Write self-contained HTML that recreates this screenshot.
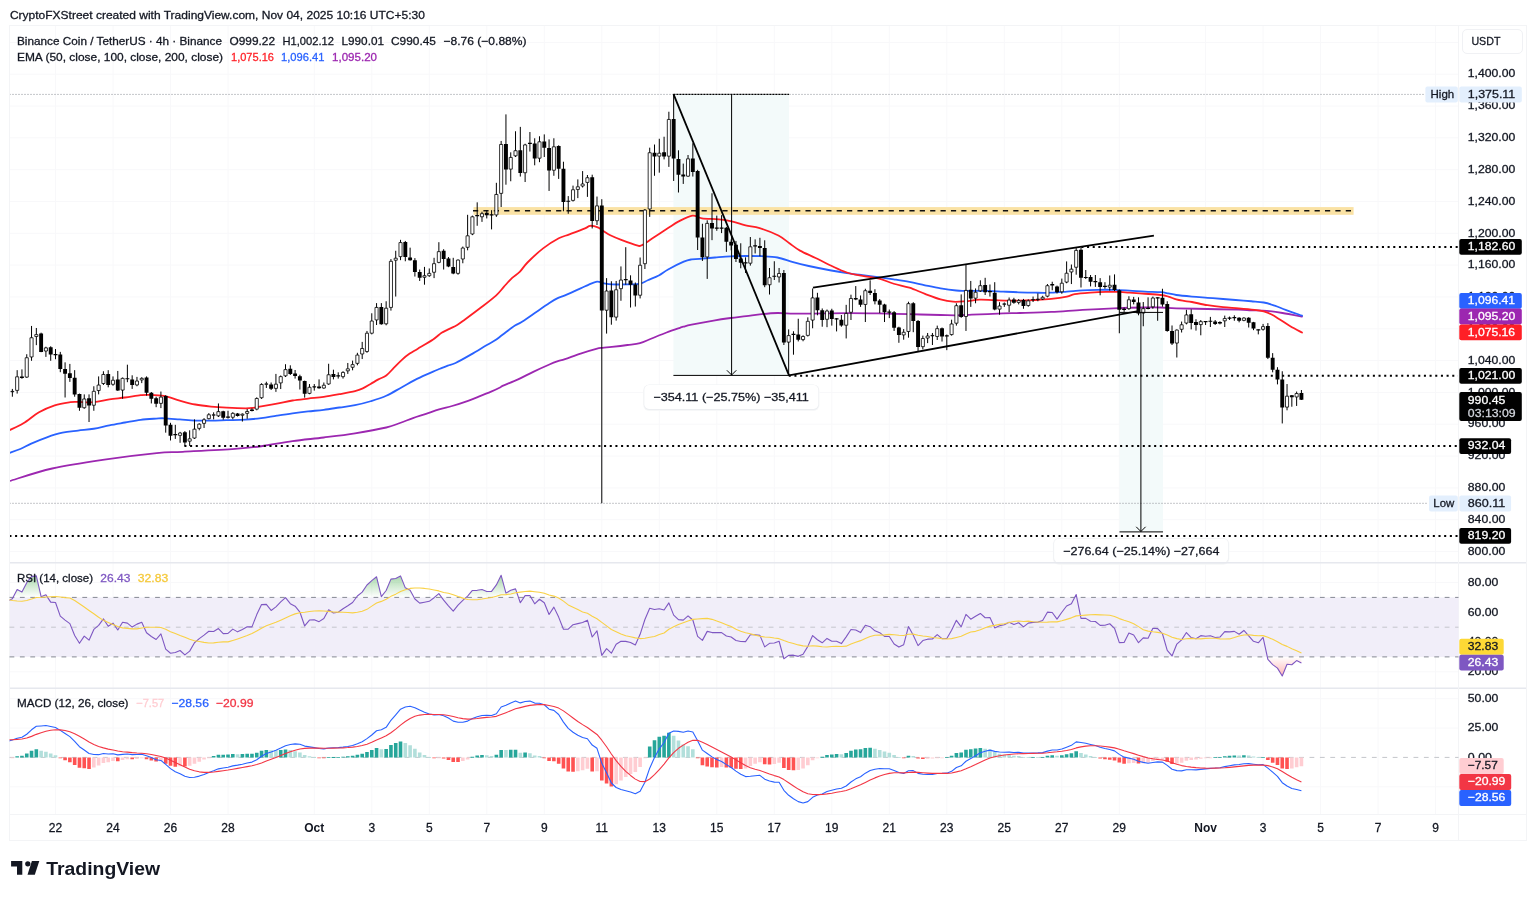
<!DOCTYPE html>
<html><head><meta charset="utf-8"><title>BNBUSDT 4h</title>
<style>html,body{margin:0;padding:0;background:#fff;}body{width:1536px;height:897px;overflow:hidden;font-family:"Liberation Sans", sans-serif;}svg{display:block;will-change:transform;opacity:0.999}text{font-family:"Liberation Sans", sans-serif;white-space:pre}</style>
</head><body><svg width="1536" height="897" viewBox="0 0 1536 897" font-family='"Liberation Sans", sans-serif' shape-rendering="auto"><rect x="0" y="0" width="1536" height="897" fill="#fff"/>
<line x1="55.5" y1="25.5" x2="55.5" y2="814.5" stroke="#f8f8fa" stroke-width="1"/>
<line x1="113.0" y1="25.5" x2="113.0" y2="814.5" stroke="#f8f8fa" stroke-width="1"/>
<line x1="170.5" y1="25.5" x2="170.5" y2="814.5" stroke="#f8f8fa" stroke-width="1"/>
<line x1="228.0" y1="25.5" x2="228.0" y2="814.5" stroke="#f8f8fa" stroke-width="1"/>
<line x1="314.3" y1="25.5" x2="314.3" y2="814.5" stroke="#f8f8fa" stroke-width="1"/>
<line x1="371.8" y1="25.5" x2="371.8" y2="814.5" stroke="#f8f8fa" stroke-width="1"/>
<line x1="429.3" y1="25.5" x2="429.3" y2="814.5" stroke="#f8f8fa" stroke-width="1"/>
<line x1="486.8" y1="25.5" x2="486.8" y2="814.5" stroke="#f8f8fa" stroke-width="1"/>
<line x1="544.3" y1="25.5" x2="544.3" y2="814.5" stroke="#f8f8fa" stroke-width="1"/>
<line x1="601.8" y1="25.5" x2="601.8" y2="814.5" stroke="#f8f8fa" stroke-width="1"/>
<line x1="659.3" y1="25.5" x2="659.3" y2="814.5" stroke="#f8f8fa" stroke-width="1"/>
<line x1="716.8" y1="25.5" x2="716.8" y2="814.5" stroke="#f8f8fa" stroke-width="1"/>
<line x1="774.3" y1="25.5" x2="774.3" y2="814.5" stroke="#f8f8fa" stroke-width="1"/>
<line x1="831.8" y1="25.5" x2="831.8" y2="814.5" stroke="#f8f8fa" stroke-width="1"/>
<line x1="889.3" y1="25.5" x2="889.3" y2="814.5" stroke="#f8f8fa" stroke-width="1"/>
<line x1="946.8" y1="25.5" x2="946.8" y2="814.5" stroke="#f8f8fa" stroke-width="1"/>
<line x1="1004.3" y1="25.5" x2="1004.3" y2="814.5" stroke="#f8f8fa" stroke-width="1"/>
<line x1="1061.8" y1="25.5" x2="1061.8" y2="814.5" stroke="#f8f8fa" stroke-width="1"/>
<line x1="1119.3" y1="25.5" x2="1119.3" y2="814.5" stroke="#f8f8fa" stroke-width="1"/>
<line x1="1205.6" y1="25.5" x2="1205.6" y2="814.5" stroke="#f8f8fa" stroke-width="1"/>
<line x1="1263.1" y1="25.5" x2="1263.1" y2="814.5" stroke="#f8f8fa" stroke-width="1"/>
<line x1="1320.6" y1="25.5" x2="1320.6" y2="814.5" stroke="#f8f8fa" stroke-width="1"/>
<line x1="1378.1" y1="25.5" x2="1378.1" y2="814.5" stroke="#f8f8fa" stroke-width="1"/>
<line x1="1435.6" y1="25.5" x2="1435.6" y2="814.5" stroke="#f8f8fa" stroke-width="1"/>
<line x1="9.5" y1="551.5" x2="1458.5" y2="551.5" stroke="#f8f8fa" stroke-width="1"/>
<line x1="9.5" y1="519.7" x2="1458.5" y2="519.7" stroke="#f8f8fa" stroke-width="1"/>
<line x1="9.5" y1="487.9" x2="1458.5" y2="487.9" stroke="#f8f8fa" stroke-width="1"/>
<line x1="9.5" y1="456.0" x2="1458.5" y2="456.0" stroke="#f8f8fa" stroke-width="1"/>
<line x1="9.5" y1="424.2" x2="1458.5" y2="424.2" stroke="#f8f8fa" stroke-width="1"/>
<line x1="9.5" y1="392.4" x2="1458.5" y2="392.4" stroke="#f8f8fa" stroke-width="1"/>
<line x1="9.5" y1="360.6" x2="1458.5" y2="360.6" stroke="#f8f8fa" stroke-width="1"/>
<line x1="9.5" y1="328.8" x2="1458.5" y2="328.8" stroke="#f8f8fa" stroke-width="1"/>
<line x1="9.5" y1="296.9" x2="1458.5" y2="296.9" stroke="#f8f8fa" stroke-width="1"/>
<line x1="9.5" y1="265.1" x2="1458.5" y2="265.1" stroke="#f8f8fa" stroke-width="1"/>
<line x1="9.5" y1="233.3" x2="1458.5" y2="233.3" stroke="#f8f8fa" stroke-width="1"/>
<line x1="9.5" y1="201.5" x2="1458.5" y2="201.5" stroke="#f8f8fa" stroke-width="1"/>
<line x1="9.5" y1="169.7" x2="1458.5" y2="169.7" stroke="#f8f8fa" stroke-width="1"/>
<line x1="9.5" y1="137.8" x2="1458.5" y2="137.8" stroke="#f8f8fa" stroke-width="1"/>
<line x1="9.5" y1="106.0" x2="1458.5" y2="106.0" stroke="#f8f8fa" stroke-width="1"/>
<line x1="9.5" y1="74.2" x2="1458.5" y2="74.2" stroke="#f8f8fa" stroke-width="1"/>
<line x1="9.5" y1="42.4" x2="1458.5" y2="42.4" stroke="#f8f8fa" stroke-width="1"/>
<line x1="9.5" y1="582.6" x2="1458.5" y2="582.6" stroke="#f8f8fa" stroke-width="1"/>
<line x1="9.5" y1="612.3" x2="1458.5" y2="612.3" stroke="#f8f8fa" stroke-width="1"/>
<line x1="9.5" y1="642.0" x2="1458.5" y2="642.0" stroke="#f8f8fa" stroke-width="1"/>
<line x1="9.5" y1="671.8" x2="1458.5" y2="671.8" stroke="#f8f8fa" stroke-width="1"/>
<line x1="9.5" y1="698.7" x2="1458.5" y2="698.7" stroke="#f8f8fa" stroke-width="1"/>
<line x1="9.5" y1="728.0" x2="1458.5" y2="728.0" stroke="#f8f8fa" stroke-width="1"/>
<line x1="9.5" y1="786.8" x2="1458.5" y2="786.8" stroke="#f8f8fa" stroke-width="1"/>
<rect x="673.4" y="94.4" width="115.6" height="281" fill="#f3fafa"/>
<rect x="1119.5" y="312.4" width="43.5" height="219.5" fill="#f3fafa"/>
<rect x="473.5" y="207.1" width="880.1" height="7.7" fill="#fae2a4"/>
<line x1="473" y1="210.8" x2="1353.5" y2="210.8" stroke="#111" stroke-width="1.4" stroke-dasharray="5.2,5.19"/>
<line x1="9.5" y1="94.4" x2="1425" y2="94.4" stroke="#8a8d95" stroke-width="1" stroke-dasharray="1,2"/>
<line x1="9.5" y1="503.3" x2="1428" y2="503.3" stroke="#8a8d95" stroke-width="1" stroke-dasharray="1,2"/>
<clipPath id="cMain"><rect x="9.5" y="26" width="1449" height="536"/></clipPath>
<path clip-path="url(#cMain)" d="M9.70,481.00 C16.78,478.92 36.42,472.07 52.20,468.50 C67.98,464.93 86.98,462.17 104.40,459.60 C121.82,457.03 143.63,454.40 156.70,453.10 C169.77,451.80 169.75,452.50 182.80,451.80 C195.85,451.10 221.93,449.82 235.00,448.90 C248.07,447.97 251.67,447.55 261.25,446.25 C270.83,444.95 282.08,442.56 292.50,441.10 C302.92,439.64 313.33,438.80 323.75,437.50 C334.17,436.20 344.58,434.97 355.00,433.30 C365.42,431.63 378.75,429.22 386.25,427.50 C393.75,425.78 395.54,424.57 400.00,423.00 C404.46,421.43 408.67,419.62 413.00,418.10 C417.33,416.58 421.65,415.32 426.00,413.85 C430.35,412.38 434.75,410.61 439.10,409.30 C443.45,407.99 447.77,407.25 452.10,406.00 C456.43,404.75 460.77,403.32 465.10,401.80 C469.43,400.28 473.77,398.58 478.10,396.90 C482.43,395.22 487.45,393.27 491.10,391.70 C494.75,390.13 498.10,388.47 500.00,387.50 C501.90,386.53 499.48,387.25 502.50,385.90 C505.52,384.55 512.89,381.78 518.10,379.40 C523.31,377.02 528.53,374.08 533.75,371.60 C538.97,369.12 545.49,366.20 549.40,364.50 C553.31,362.80 554.60,362.30 557.20,361.40 C559.80,360.50 561.10,360.40 565.00,359.10 C568.90,357.80 575.39,355.30 580.60,353.60 C585.81,351.90 592.60,349.87 596.25,348.90 C599.90,347.93 599.89,348.13 602.50,347.80 C605.11,347.47 607.73,347.37 611.90,346.90 C616.07,346.43 622.82,345.63 627.50,345.00 C632.18,344.37 636.08,344.14 640.00,343.10 C643.92,342.06 646.57,340.52 651.00,338.75 C655.43,336.98 661.77,334.32 666.60,332.50 C671.43,330.68 677.14,328.78 680.00,327.80 C682.86,326.82 681.82,327.12 683.75,326.60 C685.68,326.08 686.39,325.75 691.60,324.70 C696.81,323.65 708.50,321.42 715.00,320.30 C721.50,319.18 725.39,318.70 730.60,318.00 C735.81,317.30 741.03,316.75 746.25,316.10 C751.47,315.45 756.69,314.62 761.90,314.10 C767.11,313.58 772.30,313.08 777.50,313.00 C782.70,312.92 787.89,313.50 793.10,313.60 C798.31,313.70 799.78,313.68 808.75,313.60 C817.72,313.52 835.34,313.13 846.90,313.10 C858.46,313.07 867.68,313.22 878.10,313.40 C888.52,313.58 898.98,313.93 909.40,314.20 C919.82,314.47 932.79,314.82 940.60,315.00 C948.41,315.18 951.03,315.35 956.25,315.30 C961.47,315.25 964.09,315.02 971.90,314.70 C979.71,314.38 995.08,313.68 1003.10,313.40 C1011.12,313.12 1011.98,313.25 1020.00,313.00 C1028.03,312.75 1040.83,312.43 1051.25,311.90 C1061.67,311.37 1072.08,310.40 1082.50,309.80 C1092.92,309.20 1103.33,308.68 1113.75,308.30 C1124.17,307.92 1137.19,307.63 1145.00,307.50 C1152.81,307.37 1155.39,307.37 1160.60,307.50 C1165.81,307.63 1168.43,308.05 1176.25,308.30 C1184.07,308.55 1197.08,308.77 1207.50,309.00 C1217.92,309.23 1231.46,309.48 1238.75,309.70 C1246.04,309.92 1246.56,310.10 1251.25,310.30 C1255.94,310.50 1261.69,310.45 1266.90,310.90 C1272.11,311.35 1276.65,312.05 1282.50,313.00 C1288.35,313.95 1298.75,316.00 1302.00,316.60" fill="none" stroke="#9c27b0" stroke-width="1.8" stroke-linecap="round"/>
<path clip-path="url(#cMain)" d="M9.70,452.80 C11.47,452.17 16.71,450.53 20.30,449.00 C23.89,447.47 26.82,445.55 31.25,443.60 C35.68,441.65 41.69,439.12 46.90,437.30 C52.11,435.48 57.30,433.82 62.50,432.70 C67.70,431.58 72.89,431.26 78.10,430.60 C83.31,429.94 88.53,429.63 93.75,428.75 C98.97,427.87 104.19,426.34 109.40,425.30 C114.61,424.26 119.80,423.42 125.00,422.50 C130.20,421.58 135.39,420.45 140.60,419.80 C145.81,419.15 152.35,418.85 156.25,418.60 C160.15,418.35 160.09,418.17 164.00,418.30 C167.91,418.43 174.48,419.02 179.70,419.40 C184.92,419.78 190.08,420.40 195.30,420.60 C200.52,420.80 205.78,420.67 211.00,420.60 C216.22,420.53 220.83,420.35 226.60,420.20 C232.37,420.05 239.82,420.05 245.60,419.70 C251.38,419.35 256.03,418.78 261.25,418.10 C266.47,417.42 271.69,416.40 276.90,415.60 C282.11,414.80 287.30,414.00 292.50,413.30 C297.70,412.60 302.89,411.98 308.10,411.40 C313.31,410.82 318.53,410.45 323.75,409.80 C328.97,409.15 334.19,408.27 339.40,407.50 C344.61,406.73 349.80,406.24 355.00,405.20 C360.20,404.16 365.39,402.82 370.60,401.25 C375.81,399.68 381.03,398.14 386.25,395.80 C391.47,393.46 396.69,390.07 401.90,387.20 C407.11,384.33 412.30,381.20 417.50,378.60 C422.70,376.00 429.35,373.24 433.10,371.60 C436.85,369.96 437.55,369.75 440.00,368.75 C442.45,367.75 445.20,366.56 447.80,365.60 C450.40,364.64 451.69,364.87 455.60,363.00 C459.51,361.13 466.03,357.40 471.25,354.40 C476.47,351.40 482.99,347.30 486.90,345.00 C490.81,342.70 492.10,342.30 494.70,340.60 C497.30,338.90 499.12,337.32 502.50,334.80 C505.88,332.28 511.88,327.58 515.00,325.50 C518.12,323.42 518.12,324.26 521.25,322.30 C524.38,320.34 529.06,316.95 533.75,313.75 C538.44,310.55 545.49,305.66 549.40,303.10 C553.31,300.54 554.60,299.70 557.20,298.40 C559.80,297.10 561.10,296.97 565.00,295.30 C568.90,293.63 576.70,290.15 580.60,288.40 C584.50,286.65 585.67,285.92 588.40,284.80 C591.13,283.68 594.40,281.95 597.00,281.70 C599.60,281.45 601.52,282.85 604.00,283.30 C606.48,283.75 607.98,284.22 611.90,284.40 C615.82,284.58 622.82,284.51 627.50,284.40 C632.18,284.29 636.62,284.45 640.00,283.75 C643.38,283.05 644.67,281.57 647.80,280.20 C650.92,278.82 655.37,277.28 658.75,275.50 C662.13,273.72 663.93,271.80 668.10,269.50 C672.27,267.20 679.83,263.38 683.75,261.70 C687.67,260.02 688.99,259.87 691.60,259.40 C694.21,258.93 695.50,259.22 699.40,258.90 C703.30,258.58 709.80,257.93 715.00,257.50 C720.20,257.07 725.39,256.55 730.60,256.30 C735.81,256.05 741.03,256.02 746.25,256.00 C751.47,255.98 756.69,255.95 761.90,256.20 C767.11,256.45 772.30,256.50 777.50,257.50 C782.70,258.50 787.89,260.78 793.10,262.20 C798.31,263.62 802.39,264.62 808.75,266.00 C815.11,267.38 824.89,269.32 831.25,270.50 C837.61,271.68 841.69,272.32 846.90,273.10 C852.11,273.88 857.30,274.52 862.50,275.20 C867.70,275.88 872.89,276.50 878.10,277.20 C883.31,277.90 888.53,278.62 893.75,279.40 C898.97,280.18 904.19,280.92 909.40,281.90 C914.61,282.88 919.80,284.22 925.00,285.30 C930.20,286.38 935.39,287.53 940.60,288.40 C945.81,289.27 952.08,290.10 956.25,290.50 C960.42,290.90 960.39,290.75 965.60,290.80 C970.81,290.85 981.25,290.67 987.50,290.80 C993.75,290.93 997.89,291.35 1003.10,291.60 C1008.31,291.85 1013.33,292.12 1018.75,292.30 C1024.17,292.48 1030.18,292.63 1035.60,292.70 C1041.02,292.77 1046.03,292.88 1051.25,292.70 C1056.47,292.52 1061.69,292.00 1066.90,291.60 C1072.11,291.20 1077.30,290.60 1082.50,290.30 C1087.70,290.00 1092.89,289.88 1098.10,289.80 C1103.31,289.72 1108.53,289.67 1113.75,289.80 C1118.97,289.93 1124.19,290.30 1129.40,290.60 C1134.61,290.90 1139.80,291.33 1145.00,291.60 C1150.20,291.87 1156.70,291.90 1160.60,292.20 C1164.50,292.50 1165.79,292.93 1168.40,293.40 C1171.01,293.87 1172.33,294.47 1176.25,295.00 C1180.17,295.53 1186.69,296.13 1191.90,296.60 C1197.11,297.07 1202.30,297.40 1207.50,297.80 C1212.70,298.20 1218.42,298.63 1223.10,299.00 C1227.78,299.37 1230.91,299.62 1235.60,300.00 C1240.29,300.38 1246.56,300.83 1251.25,301.25 C1255.94,301.67 1259.84,301.77 1263.75,302.50 C1267.66,303.23 1271.06,304.38 1274.70,305.60 C1278.34,306.82 1281.05,308.13 1285.60,309.80 C1290.15,311.47 1299.27,314.63 1302.00,315.60" fill="none" stroke="#2962ff" stroke-width="1.8" stroke-linecap="round"/>
<path clip-path="url(#cMain)" d="M9.70,430.10 C11.98,428.97 18.52,426.27 23.40,423.30 C28.28,420.33 33.78,415.30 39.00,412.30 C44.22,409.30 49.48,406.98 54.70,405.30 C59.92,403.62 66.42,402.77 70.30,402.20 C74.18,401.63 74.09,401.90 78.00,401.90 C81.91,401.90 88.52,402.62 93.75,402.20 C98.98,401.78 104.19,400.18 109.40,399.40 C114.61,398.62 119.80,398.20 125.00,397.50 C130.20,396.80 136.70,395.65 140.60,395.20 C144.50,394.75 144.50,394.68 148.40,394.80 C152.30,394.92 158.78,394.93 164.00,395.90 C169.22,396.87 174.48,399.17 179.70,400.60 C184.92,402.03 190.08,403.50 195.30,404.50 C200.52,405.50 205.78,406.07 211.00,406.60 C216.22,407.13 220.83,407.42 226.60,407.70 C232.37,407.98 241.13,408.28 245.60,408.30 C250.07,408.32 250.79,408.12 253.40,407.80 C256.01,407.48 257.33,407.10 261.25,406.40 C265.17,405.70 271.69,404.58 276.90,403.60 C282.11,402.62 287.30,401.33 292.50,400.50 C297.70,399.67 302.89,399.20 308.10,398.60 C313.31,398.00 318.53,397.63 323.75,396.90 C328.97,396.17 334.19,395.17 339.40,394.20 C344.61,393.23 351.10,392.07 355.00,391.10 C358.90,390.13 360.20,389.58 362.80,388.40 C365.40,387.22 368.00,385.50 370.60,384.00 C373.20,382.50 375.79,380.82 378.40,379.40 C381.01,377.98 383.65,377.45 386.25,375.50 C388.85,373.55 391.39,370.32 394.00,367.70 C396.61,365.08 399.28,362.15 401.90,359.80 C404.52,357.45 407.10,355.42 409.70,353.60 C412.30,351.78 413.60,351.25 417.50,348.90 C421.40,346.55 429.08,342.18 433.10,339.50 C437.12,336.82 438.88,334.57 441.60,332.80 C444.32,331.03 446.80,330.20 449.40,328.90 C452.00,327.60 454.60,326.57 457.20,325.00 C459.80,323.43 461.10,322.37 465.00,319.50 C468.90,316.63 475.39,311.83 480.60,307.80 C485.81,303.77 492.35,298.82 496.25,295.30 C500.15,291.78 501.39,289.57 504.00,286.70 C506.61,283.83 509.28,280.57 511.90,278.10 C514.52,275.63 517.10,274.50 519.70,271.90 C522.30,269.30 523.60,266.42 527.50,262.50 C531.40,258.58 537.89,252.43 543.10,248.40 C548.31,244.37 554.37,240.63 558.75,238.30 C563.13,235.97 565.02,236.05 569.40,234.40 C573.77,232.75 581.57,229.83 585.00,228.40 C588.43,226.97 587.87,225.98 590.00,225.80 C592.13,225.62 595.51,226.39 597.80,227.30 C600.09,228.21 601.67,229.93 603.75,231.25 C605.83,232.57 607.38,233.77 610.30,235.20 C613.22,236.62 616.82,238.12 621.25,239.80 C625.68,241.48 633.51,244.38 636.90,245.30 C640.29,246.22 639.00,246.47 641.60,245.30 C644.20,244.13 648.08,241.17 652.50,238.30 C656.92,235.43 663.73,230.92 668.10,228.10 C672.48,225.28 674.68,223.48 678.75,221.40 C682.82,219.32 688.64,216.12 692.50,215.60 C696.36,215.08 697.48,217.67 701.90,218.30 C706.32,218.93 714.05,218.88 719.00,219.40 C723.95,219.92 727.17,220.42 731.60,221.40 C736.03,222.38 740.92,224.18 745.60,225.30 C750.28,226.42 754.23,226.40 759.70,228.10 C765.17,229.80 773.45,232.97 778.40,235.50 C783.35,238.03 785.80,240.78 789.40,243.30 C793.00,245.82 795.63,248.15 800.00,250.60 C804.37,253.05 810.39,255.47 815.60,258.00 C820.81,260.53 826.03,263.38 831.25,265.80 C836.47,268.22 841.69,270.82 846.90,272.50 C852.11,274.18 857.30,274.93 862.50,275.90 C867.70,276.87 872.89,276.99 878.10,278.30 C883.31,279.61 888.53,282.18 893.75,283.75 C898.97,285.32 904.19,286.01 909.40,287.70 C914.61,289.39 919.80,291.95 925.00,293.90 C930.20,295.85 935.92,298.10 940.60,299.40 C945.28,300.70 948.93,301.39 953.10,301.70 C957.27,302.01 961.17,301.58 965.60,301.25 C970.03,300.92 974.75,299.88 979.70,299.70 C984.65,299.52 988.79,300.05 995.30,300.20 C1001.81,300.35 1012.03,300.63 1018.75,300.60 C1025.47,300.57 1030.18,300.28 1035.60,300.00 C1041.02,299.72 1046.03,299.47 1051.25,298.90 C1056.47,298.33 1062.99,297.38 1066.90,296.60 C1070.81,295.82 1070.80,294.85 1074.70,294.20 C1078.60,293.55 1085.10,293.08 1090.30,292.70 C1095.50,292.32 1100.95,292.03 1105.90,291.90 C1110.85,291.77 1116.08,291.77 1120.00,291.90 C1123.92,292.03 1125.23,292.39 1129.40,292.70 C1133.57,293.01 1139.80,293.37 1145.00,293.75 C1150.20,294.13 1156.70,294.52 1160.60,295.00 C1164.50,295.48 1165.79,295.87 1168.40,296.60 C1171.01,297.33 1173.65,298.68 1176.25,299.40 C1178.85,300.12 1181.39,300.47 1184.00,300.90 C1186.61,301.33 1187.98,301.28 1191.90,302.00 C1195.82,302.72 1202.30,304.33 1207.50,305.20 C1212.70,306.07 1217.89,306.68 1223.10,307.20 C1228.31,307.72 1233.53,307.87 1238.75,308.30 C1243.97,308.73 1250.23,309.28 1254.40,309.80 C1258.57,310.32 1260.88,310.62 1263.75,311.40 C1266.62,312.18 1268.99,313.20 1271.60,314.50 C1274.21,315.80 1276.28,317.24 1279.40,319.20 C1282.52,321.16 1286.53,324.03 1290.30,326.25 C1294.07,328.47 1300.05,331.46 1302.00,332.50" fill="none" stroke="#ff1f26" stroke-width="1.8" stroke-linecap="round"/>
<path d="M12.37,388.91V396.72M17.16,370.16V393.59M21.95,369.38V378.75M26.75,354.22V377.81M31.54,325.94V360.78M36.33,327.97V345.16M41.12,332.66V352.19M45.91,346.72V356.88M50.71,346.25V360.78M55.50,349.06V359.22M60.29,351.88V372.19M65.08,362.34V397.50M69.87,363.91V381.88M74.67,370.16V396.72M79.46,393.59V410.78M84.25,394.38V408.75M89.04,394.38V422.03M93.83,386.25V410.78M98.63,376.41V394.38M103.42,371.25V385.00M108.21,370.16V387.34M113.00,376.41V385.78M117.79,370.94V390.94M122.59,377.50V398.75M127.38,364.69V382.19M132.17,375.31V388.91M136.96,376.88V386.25M141.75,377.19V383.12M146.55,376.41V395.62M151.34,392.03V403.44M156.13,396.72V407.19M160.92,391.56V408.12M165.71,395.16V432.66M170.51,422.81V440.47M175.30,424.84V438.91M180.09,431.88V442.81M184.88,431.09V445.94M189.67,430.31V445.94M194.47,419.38V438.91M199.26,423.28V430.31M204.05,418.12V427.97M208.84,413.12V419.38M213.63,412.34V419.38M218.43,403.44V417.03M223.22,410.78V419.69M228.01,410.78V418.59M232.80,412.19V419.22M237.59,412.97V416.56M242.39,413.44V421.56M247.18,409.06V418.75M251.97,408.28V411.41M256.76,397.34V410.31M261.55,383.28V398.91M266.35,381.72V387.97M271.14,382.50V390.00M275.93,373.91V391.88M280.72,375.47V389.06M285.51,364.22V377.03M290.31,365.31V375.00M295.10,370.00V378.59M299.89,374.69V389.53M304.68,380.62V397.66M309.47,384.06V394.22M314.27,384.06V390.62M319.06,379.38V388.75M323.85,382.50V388.75M328.64,363.75V384.84M333.43,369.69V379.38M338.23,372.34V378.59M343.02,371.25V378.59M347.81,362.97V373.91M352.60,360.62V370.31M357.39,352.81V365.31M362.19,341.88V359.06M366.98,330.94V352.81M371.77,313.28V334.38M376.56,303.12V325.00M381.35,303.12V324.69M386.15,301.25V325.31M390.94,259.06V310.62M395.73,250.78V296.56M400.52,239.84V260.16M405.31,240.94V261.25M410.11,247.66V260.62M414.90,258.12V276.56M419.69,269.53V280.94M424.48,266.88V284.69M429.27,268.44V276.88M434.07,257.81V278.12M438.86,242.19V263.28M443.65,249.22V269.53M448.44,257.03V267.19M453.23,257.81V274.22M458.03,259.38V274.69M462.82,246.56V263.28M467.61,214.80V250.30M472.40,215.62V235.16M477.19,202.34V225.78M481.99,211.72V221.88M486.78,210.16V218.44M491.57,210.16V229.38M496.36,182.81V216.88M501.15,140.94V207.03M505.95,114.38V184.69M510.74,152.34V181.25M515.53,131.25V157.03M520.32,126.88V176.56M525.11,143.75V182.03M529.91,132.03V151.56M534.70,138.28V165.31M539.49,136.25V162.19M544.28,134.38V157.03M549.07,139.38V190.94M553.87,138.28V175.78M558.66,145.31V178.91M563.45,161.72V211.25M568.24,196.09V213.75M573.03,185.62V201.56M577.83,179.38V198.12M582.62,171.09V187.50M587.41,175.00V196.88M592.20,174.69V228.44M596.99,196.56V225.00M601.79,199.20V503.20M606.58,278.12V333.59M611.37,281.25V324.69M616.16,280.94V320.62M620.95,266.41V300.78M625.75,247.19V284.69M630.54,275.31V307.50M635.33,282.50V306.56M640.12,257.50V298.44M644.91,209.00V269.00M649.71,147.66V216.88M654.50,144.53V175.78M659.29,138.75V172.66M664.08,136.72V159.38M668.87,111.72V166.88M673.67,94.06V180.94M678.46,150.31V192.50M683.25,163.59V183.91M688.04,155.00V176.88M692.83,143.28V176.56M697.63,169.84V250.00M702.42,223.75V260.94M707.21,220.30V278.90M712.00,193.28V240.16M716.79,215.62V230.78M721.59,215.16V233.12M726.38,226.88V251.88M731.17,239.38V250.31M735.96,240.94V262.03M740.75,243.28V268.28M745.55,257.34V272.97M750.34,237.03V265.62M755.13,239.38V253.44M759.92,237.81V256.25M764.71,240.31V287.19M769.51,267.97V294.53M774.30,261.25V280.00M779.09,267.97V282.50M783.88,270.00V345.00M788.67,329.40V375.00M793.47,331.25V354.69M798.26,318.75V341.41M803.05,335.31V341.25M807.84,317.34V336.56M812.63,288.44V328.28M817.43,292.81V315.31M822.22,308.44V326.72M827.01,309.53V327.19M831.80,308.75V325.62M836.59,318.12V331.41M841.39,315.00V326.72M846.18,304.84V338.44M850.97,294.69V320.00M855.76,286.09V300.16M860.55,295.47V306.88M865.35,288.75V322.03M870.14,280.31V295.00M874.93,289.22V304.38M879.72,299.06V313.12M884.51,303.75V322.03M889.31,309.53V318.12M894.10,311.09V330.94M898.89,326.72V342.81M903.68,329.06V339.69M908.47,301.72V337.66M913.27,302.19V332.19M918.06,320.00V350.94M922.85,335.62V349.38M927.64,332.97V343.12M932.43,332.97V345.00M937.23,325.62V340.00M942.02,327.50V341.56M946.81,334.53V350.16M951.60,319.69V335.62M956.39,303.28V325.62M961.19,294.38V317.81M965.98,265.00V330.94M970.77,280.94V306.88M975.56,288.44V303.28M980.35,280.31V291.88M985.15,277.81V295.00M989.94,284.53V296.56M994.73,282.19V310.31M999.52,302.19V314.69M1004.31,302.50V306.88M1009.11,297.50V312.19M1013.90,297.81V303.75M1018.69,299.06V304.38M1023.48,298.91V308.75M1028.27,299.38V306.72M1033.07,296.56V302.03M1037.86,293.44V301.25M1042.65,295.78V300.00M1047.44,284.06V297.34M1052.23,281.72V290.31M1057.03,285.62V293.44M1061.82,278.59V293.75M1066.61,261.41V283.28M1071.40,264.53V284.06M1076.19,248.12V274.69M1080.99,247.81V287.50M1085.78,270.00V279.06M1090.57,275.00V286.41M1095.36,275.00V286.88M1100.15,278.12V295.31M1104.95,282.19V288.75M1109.74,275.47V290.62M1114.53,274.38V291.09M1119.32,289.53V333.28M1124.11,307.50V311.88M1128.91,296.25V309.84M1133.70,296.88V304.38M1138.49,297.34V315.31M1143.28,302.03V326.25M1148.07,297.34V309.38M1152.87,296.56V308.75M1157.66,297.34V320.78M1162.45,288.75V306.72M1167.24,301.25V331.72M1172.03,325.47V345.00M1176.83,329.38V357.50M1181.62,321.56V332.50M1186.41,309.84V324.38M1191.20,309.38V329.38M1195.99,319.22V330.62M1200.79,320.00V335.31M1205.58,321.25V325.00M1210.37,316.88V327.03M1215.16,320.00V325.00M1219.95,321.25V324.38M1224.75,315.62V327.03M1229.54,316.56V320.00M1234.33,315.31V320.78M1239.12,317.19V322.34M1243.91,317.19V321.25M1248.71,317.19V327.50M1253.50,321.88V330.16M1258.29,329.38V334.38M1263.08,323.91V330.62M1267.87,323.12V359.06M1272.67,353.12V372.34M1277.46,367.19V384.38M1282.25,371.25V423.44M1287.04,384.06V410.31M1291.83,395.00V406.72M1296.63,391.56V405.94M1301.42,390.00V400.00" stroke="#000" stroke-width="1" fill="none"/>
<path d="M20.00,376.41H23.90V377.97H20.00ZM39.17,333.44H43.07V351.88H39.17ZM48.76,347.19H52.66V354.53H48.76ZM53.55,353.93H57.45V355.13H53.55ZM58.34,354.53H62.24V369.06H58.34ZM63.13,369.06H67.03V373.75H63.13ZM67.92,373.28H71.82V377.97H67.92ZM72.72,377.66H76.62V394.38H72.72ZM77.51,394.06H81.41V407.66H77.51ZM87.09,398.28H90.99V405.62H87.09ZM106.26,374.06H110.16V385.00H106.26ZM115.84,379.53H119.74V390.47H115.84ZM125.43,378.15H129.33V379.35H125.43ZM130.22,379.53H134.12V385.00H130.22ZM144.60,377.50H148.50V392.81H144.60ZM149.39,392.81H153.29V398.75H149.39ZM154.18,398.28H158.08V403.75H154.18ZM163.76,395.94H167.66V425.62H163.76ZM168.56,424.84H172.46V435.78H168.56ZM173.35,434.01H177.25V435.21H173.35ZM182.93,432.34H186.83V442.50H182.93ZM221.27,411.25H225.17V417.81H221.27ZM226.06,416.51H229.96V417.71H226.06ZM235.64,413.44H239.54V416.09H235.64ZM250.02,409.53H253.92V411.09H250.02ZM269.19,384.38H273.09V388.75H269.19ZM288.36,368.75H292.26V373.91H288.36ZM293.15,373.59H297.05V375.94H293.15ZM297.94,376.25H301.84V380.62H297.94ZM302.73,380.94H306.63V393.75H302.73ZM317.11,386.41H321.01V388.28H317.11ZM331.48,373.91H335.38V377.03H331.48ZM336.28,375.34H340.18V376.54H336.28ZM379.40,307.03H383.30V324.22H379.40ZM403.36,241.88H407.26V257.03H403.36ZM408.16,257.50H412.06V260.16H408.16ZM412.95,260.16H416.85V271.88H412.95ZM417.74,271.88H421.64V277.66H417.74ZM441.70,250.78H445.60V259.06H441.70ZM446.49,258.59H450.39V266.41H446.49ZM451.28,266.88H455.18V273.44H451.28ZM475.24,215.03H479.14V216.22H475.24ZM484.83,212.81H488.73V215.31H484.83ZM489.62,214.24H493.52V215.44H489.62ZM504.00,144.06H507.90V169.53H504.00ZM518.37,150.31H522.27V173.12H518.37ZM527.96,142.84H531.86V144.04H527.96ZM532.75,143.44H536.65V158.59H532.75ZM542.33,141.41H546.23V147.66H542.33ZM547.12,148.12H551.02V170.62H547.12ZM556.71,146.09H560.61V168.75H556.71ZM561.50,168.75H565.40V201.88H561.50ZM566.29,200.65H570.19V201.85H566.29ZM590.25,177.34H594.15V221.09H590.25ZM599.84,205.50H603.74V310.60H599.84ZM609.42,290.62H613.32V317.19H609.42ZM623.80,279.09H627.70V280.29H623.80ZM628.59,280.47H632.49V284.69H628.59ZM633.38,284.38H637.28V295.62H633.38ZM652.55,152.81H656.45V156.56H652.55ZM662.13,152.34H666.03V156.56H662.13ZM671.72,119.06H675.62V158.59H671.72ZM676.51,159.06H680.41V174.69H676.51ZM681.30,174.53H685.20V176.56H681.30ZM690.88,158.44H694.78V171.88H690.88ZM695.68,170.94H699.58V237.50H695.68ZM700.47,237.50H704.37V257.34H700.47ZM710.05,222.97H713.95V228.44H710.05ZM714.84,227.53H718.74V228.72H714.84ZM719.64,227.53H723.54V228.72H719.64ZM724.43,227.66H728.33V241.72H724.43ZM729.22,241.72H733.12V245.62H729.22ZM734.01,244.84H737.91V258.91H734.01ZM738.80,258.44H742.70V262.81H738.80ZM743.60,262.21H747.50V263.41H743.60ZM753.18,245.34H757.08V246.54H753.18ZM757.97,245.94H761.87V247.97H757.97ZM762.76,248.12H766.66V285.16H762.76ZM772.35,275.65H776.25V276.85H772.35ZM781.93,273.12H785.83V342.50H781.93ZM791.52,333.77H795.42V334.98H791.52ZM796.31,334.38H800.21V339.84H796.31ZM815.48,297.50H819.38V310.31H815.48ZM820.27,310.31H824.17V320.00H820.27ZM829.85,310.62H833.75V318.91H829.85ZM834.64,318.31H838.54V319.51H834.64ZM839.44,319.69H843.34V325.62H839.44ZM853.81,298.12H857.71V299.38H853.81ZM858.60,299.38H862.50V304.84H858.60ZM868.19,290.78H872.09V293.12H868.19ZM872.98,293.12H876.88V301.25H872.98ZM877.77,300.62H881.67V304.84H877.77ZM882.56,304.38H886.46V312.19H882.56ZM887.36,311.59H891.26V312.79H887.36ZM892.15,312.19H896.05V327.81H892.15ZM896.94,327.50H900.84V335.00H896.94ZM911.32,303.28H915.22V320.94H911.32ZM916.11,320.94H920.01V347.03H916.11ZM940.07,328.28H943.97V336.56H940.07ZM944.86,335.18H948.76V336.38H944.86ZM959.24,305.31H963.14V316.88H959.24ZM968.82,289.69H972.72V298.59H968.82ZM983.20,285.00H987.10V292.34H983.20ZM987.99,290.96H991.89V292.16H987.99ZM992.78,292.81H996.68V309.53H992.78ZM1011.95,299.38H1015.85V302.81H1011.95ZM1021.53,300.00H1025.43V305.94H1021.53ZM1050.28,284.06H1054.18V285.62H1050.28ZM1055.08,286.41H1058.98V292.19H1055.08ZM1079.04,249.69H1082.94V277.81H1079.04ZM1083.83,276.90H1087.73V278.10H1083.83ZM1088.62,277.03H1092.52V281.72H1088.62ZM1093.41,281.12H1097.31V282.32H1093.41ZM1098.20,282.19H1102.10V286.88H1098.20ZM1103.00,285.81H1106.90V287.01H1103.00ZM1112.58,284.84H1116.48V290.00H1112.58ZM1117.37,290.31H1121.27V309.84H1117.37ZM1122.16,308.77H1126.06V309.98H1122.16ZM1131.75,299.38H1135.65V302.03H1131.75ZM1136.54,302.50H1140.44V313.44H1136.54ZM1146.12,307.76H1150.02V308.96H1146.12ZM1155.71,297.21H1159.61V298.41H1155.71ZM1160.50,297.66H1164.40V304.38H1160.50ZM1165.29,304.06H1169.19V330.94H1165.29ZM1170.08,330.94H1173.98V343.44H1170.08ZM1189.25,314.22H1193.15V323.12H1189.25ZM1194.04,321.88H1197.94V325.00H1194.04ZM1203.63,321.12H1207.53V322.32H1203.63ZM1208.42,320.65H1212.32V321.85H1208.42ZM1213.21,321.56H1217.11V323.91H1213.21ZM1218.00,321.88H1221.90V323.44H1218.00ZM1227.59,317.52H1231.49V318.73H1227.59ZM1232.38,317.06H1236.28V318.26H1232.38ZM1237.17,317.66H1241.07V320.78H1237.17ZM1246.76,317.66H1250.66V322.81H1246.76ZM1251.55,322.34H1255.45V328.59H1251.55ZM1256.34,329.24H1260.24V330.44H1256.34ZM1265.92,325.94H1269.82V357.81H1265.92ZM1270.72,357.81H1274.62V369.69H1270.72ZM1275.51,369.69H1279.41V379.38H1275.51ZM1280.30,379.38H1284.20V407.50H1280.30ZM1289.88,395.31H1293.78V397.34H1289.88ZM1299.47,393.12H1303.37V399.69H1299.47Z" fill="#000"/>
<path d="M10.82,391.36H13.92V391.76H10.82ZM15.61,376.81H18.71V390.38H15.61ZM25.20,357.74H28.30V377.10H25.20ZM29.99,337.74H33.09V356.94H29.99ZM34.78,334.62H37.88V336.48H34.78ZM44.36,347.90H47.46V351.01H44.36ZM82.70,398.99H85.80V407.73H82.70ZM92.28,391.34H95.38V405.23H92.28ZM97.08,385.09H100.18V390.54H97.08ZM101.87,374.46H104.97V383.51H101.87ZM111.45,380.24H114.55V384.29H111.45ZM121.04,378.37H124.14V390.07H121.04ZM135.41,381.02H138.51V384.91H135.41ZM140.20,378.37H143.30V379.91H140.20ZM159.37,397.12H162.47V403.35H159.37ZM178.54,433.06H181.64V435.38H178.54ZM188.12,438.84H191.22V441.16H188.12ZM192.92,429.15H196.02V438.04H192.92ZM197.71,424.15H200.81V428.35H197.71ZM202.50,419.77H205.60V423.35H202.50ZM207.29,414.77H210.39V418.66H207.29ZM212.08,414.80H215.18V415.20H212.08ZM216.88,411.65H219.98V415.85H216.88ZM231.25,413.37H234.35V417.26H231.25ZM240.84,414.15H243.94V415.23H240.84ZM245.63,411.49H248.73V413.35H245.63ZM255.21,398.52H258.31V409.13H255.21ZM260.00,384.46H263.10V397.73H260.00ZM264.80,383.86H267.90V384.26H264.80ZM274.38,384.15H277.48V388.35H274.38ZM279.17,376.65H282.27V382.88H279.17ZM283.96,369.62H287.06V375.85H283.96ZM307.92,387.27H311.02V393.35H307.92ZM312.72,386.67H315.82V387.08H312.72ZM322.30,385.24H325.40V388.04H322.30ZM327.09,374.77H330.19V383.98H327.09ZM341.47,372.43H344.57V376.63H341.47ZM346.26,368.84H349.36V370.85H346.26ZM351.05,364.62H354.15V367.26H351.05ZM355.84,355.09H358.94V363.35H355.84ZM360.64,348.52H363.74V353.98H360.64ZM365.43,333.21H368.53V351.48H365.43ZM370.22,321.02H373.32V333.19H370.22ZM375.01,307.43H378.11V319.91H375.01ZM384.60,308.21H387.70V323.82H384.60ZM389.39,261.34H392.49V307.41H389.39ZM394.18,258.21H397.28V260.23H394.18ZM398.97,242.59H402.07V256.63H398.97ZM422.93,275.71H426.03V277.26H422.93ZM427.72,273.37H430.82V275.69H427.72ZM432.52,263.68H435.62V272.26H432.52ZM437.31,251.65H440.41V262.41H437.31ZM456.48,260.09H459.58V273.35H456.48ZM461.27,248.06H464.37V258.98H461.27ZM466.06,235.80H469.16V247.30H466.06ZM470.85,216.81H473.95V233.97H470.85ZM480.44,213.68H483.54V216.79H480.44ZM494.81,194.46H497.91V214.91H494.81ZM499.60,144.46H502.70V193.35H499.60ZM509.19,157.43H512.29V169.13H509.19ZM513.98,150.71H517.08V155.85H513.98ZM523.56,144.93H526.66V172.72H523.56ZM537.94,141.81H541.04V158.19H537.94ZM552.32,146.81H555.42V170.22H552.32ZM571.48,189.78H574.58V200.38H571.48ZM576.28,186.81H579.38V189.44H576.28ZM581.07,183.99H584.17V186.01H581.07ZM585.86,177.74H588.96V182.41H585.86ZM595.44,205.87H598.54V220.69H595.44ZM605.03,291.02H608.13V310.23H605.03ZM614.61,289.77H617.71V317.10H614.61ZM619.40,280.09H622.50V288.66H619.40ZM638.57,265.24H641.67V295.23H638.57ZM643.36,210.10H646.46V263.70H643.36ZM648.16,152.74H651.26V208.97H648.16ZM657.74,153.21H660.84V156.16H657.74ZM667.32,119.46H670.42V156.16H667.32ZM686.49,158.84H689.59V176.16H686.49ZM705.66,223.40H708.76V256.90H705.66ZM748.79,246.81H751.89V263.19H748.79ZM767.96,277.74H771.06V284.76H767.96ZM777.54,273.52H780.64V276.94H777.54ZM787.12,335.60H790.22V342.10H787.12ZM801.50,336.49H804.60V339.60H801.50ZM806.29,321.34H809.39V335.38H806.29ZM811.08,297.90H814.18V320.07H811.08ZM825.46,311.02H828.56V319.29H825.46ZM844.63,313.52H847.73V325.23H844.63ZM849.42,298.52H852.52V312.26H849.42ZM863.80,290.71H866.90V304.44H863.80ZM902.13,332.27H905.23V334.91H902.13ZM906.92,303.68H910.02V331.48H906.92ZM921.30,338.52H924.40V346.63H921.30ZM926.09,336.02H929.19V338.04H926.09ZM930.88,335.42H933.98V335.83H930.88ZM935.68,328.68H938.78V336.48H935.68ZM950.05,323.99H953.15V334.60H950.05ZM954.84,305.71H957.94V323.19H954.84ZM964.43,290.40H967.53V316.48H964.43ZM974.01,292.27H977.11V298.19H974.01ZM978.80,285.71H981.90V290.85H978.80ZM997.97,306.02H1001.07V309.13H997.97ZM1002.76,303.86H1005.86V304.26H1002.76ZM1007.56,300.09H1010.66V305.23H1007.56ZM1017.14,300.56H1020.24V302.41H1017.14ZM1026.72,300.87H1029.82V305.54H1026.72ZM1031.52,299.49H1034.62V299.89H1031.52ZM1036.31,299.17H1039.41V299.58H1036.31ZM1041.10,297.27H1044.20V298.98H1041.10ZM1045.89,285.71H1048.99V296.16H1045.89ZM1060.27,283.21H1063.37V291.79H1060.27ZM1065.06,273.21H1068.16V282.10H1065.06ZM1069.85,269.15H1072.95V271.94H1069.85ZM1074.64,250.40H1077.74V267.26H1074.64ZM1108.19,285.24H1111.29V287.10H1108.19ZM1127.36,299.77H1130.46V308.66H1127.36ZM1141.73,308.68H1144.83V313.04H1141.73ZM1151.32,298.06H1154.42V306.79H1151.32ZM1175.28,330.09H1178.38V343.04H1175.28ZM1180.07,324.77H1183.17V329.29H1180.07ZM1184.86,314.93H1187.96V323.04H1184.86ZM1199.24,321.65H1202.34V324.60H1199.24ZM1223.20,318.52H1226.30V320.85H1223.20ZM1242.36,318.06H1245.46V320.38H1242.36ZM1261.53,326.65H1264.63V329.29H1261.53ZM1285.49,396.18H1288.59V407.10H1285.49ZM1295.08,393.52H1298.18V396.94H1295.08Z" fill="#fff" stroke="#000" stroke-width="0.8"/>
<line x1="673.4" y1="94.4" x2="789" y2="94.4" stroke="#000" stroke-width="1.3" stroke-dasharray="2,1"/>
<line x1="731.6" y1="94.4" x2="731.6" y2="375" stroke="#000" stroke-width="1"/>
<path d="M726.9,370.3 L731.6,375 L736.3,370.3" stroke="#000" stroke-width="1" fill="none"/>
<line x1="673.4" y1="375.4" x2="789" y2="375.4" stroke="#000" stroke-width="1"/>
<line x1="673.6" y1="94.4" x2="789" y2="375.4" stroke="#000" stroke-width="1.8"/>
<path d="M813,287.7 L1153.9,235.6" stroke="#000" stroke-width="1.8" fill="none"/>
<line x1="789" y1="375.4" x2="1139.5" y2="310.9" stroke="#000" stroke-width="1.8"/>
<line x1="1119.5" y1="312.4" x2="1163" y2="312.4" stroke="#000" stroke-width="1"/>
<line x1="1140.9" y1="312.2" x2="1140.9" y2="531.5" stroke="#000" stroke-width="1"/>
<path d="M1136.2,526.8 L1140.9,531.5 L1145.6,526.8" stroke="#000" stroke-width="1" fill="none"/>
<line x1="1119.5" y1="531.9" x2="1163" y2="531.9" stroke="#000" stroke-width="1"/>
<line x1="1081.35" y1="247.0" x2="1458.5" y2="247.0" stroke="#000" stroke-width="2.05" stroke-dasharray="2.05,3.621"/>
<line x1="788.75" y1="375.7" x2="1458.5" y2="375.7" stroke="#000" stroke-width="2.05" stroke-dasharray="2.05,3.621"/>
<line x1="184.4" y1="445.9" x2="1458.5" y2="445.9" stroke="#000" stroke-width="2.05" stroke-dasharray="2.05,3.621"/>
<line x1="9.4" y1="535.9" x2="1458.5" y2="535.9" stroke="#000" stroke-width="2.05" stroke-dasharray="2.05,3.621"/>
<rect x="643.0999999999999" y="384.4" width="176.4" height="26.6" rx="6" fill="#f6f7f8"/>
<rect x="643.8" y="384.7" width="175" height="25.2" rx="5.2" fill="#eceef1"/>
<rect x="644.3" y="385" width="174" height="24" rx="4.8" fill="#fff"/>
<text x="653.4" y="401.4" font-size="11.3" fill="#131722" stroke="#131722" stroke-width="0.28" font-weight="400" text-anchor="start" textLength="155.5" lengthAdjust="spacingAndGlyphs">−354.11 (−25.75%) −35,411</text>
<rect x="1052.8999999999999" y="538.1" width="176.4" height="26.6" rx="6" fill="#f6f7f8"/>
<rect x="1053.6" y="538.4000000000001" width="175" height="25.2" rx="5.2" fill="#eceef1"/>
<rect x="1054.1" y="538.7" width="174" height="24" rx="4.8" fill="#fff"/>
<text x="1063.1999999999998" y="555.1" font-size="11.3" fill="#131722" stroke="#131722" stroke-width="0.28" font-weight="400" text-anchor="start" textLength="156.2" lengthAdjust="spacingAndGlyphs">−276.64 (−25.14%) −27,664</text>
<rect x="1458.5" y="25.5" width="68.0" height="815.0" fill="#fff"/>
<line x1="9.5" y1="562.7" x2="1526.5" y2="562.7" stroke="#e6e8ee" stroke-width="1.4"/>
<line x1="9.5" y1="688.3" x2="1526.5" y2="688.3" stroke="#e6e8ee" stroke-width="1.4"/>
<line x1="9.5" y1="814.5" x2="1526.5" y2="814.5" stroke="#f3f4f6" stroke-width="1"/>
<line x1="1458.5" y1="25.5" x2="1458.5" y2="840.5" stroke="#f3f4f6" stroke-width="1"/>
<rect x="9.5" y="25.5" width="1517.0" height="815.0" fill="none" stroke="#f3f4f6" stroke-width="1"/>
<rect x="10.0" y="597.4" width="1448.5" height="59.5" fill="#f1eef9"/>
<line x1="9.5" y1="597.4" x2="1458.5" y2="597.4" stroke="#868993" stroke-width="1" stroke-dasharray="4.8,5.6"/>
<line x1="9.5" y1="627.2" x2="1458.5" y2="627.2" stroke="#c4c6cc" stroke-width="1" stroke-dasharray="4.8,5.6"/>
<line x1="9.5" y1="656.9" x2="1458.5" y2="656.9" stroke="#868993" stroke-width="1" stroke-dasharray="4.8,5.6"/>
<line x1="9.5" y1="757.4" x2="1458.5" y2="757.4" stroke="#c3c5ca" stroke-width="1" stroke-dasharray="4.8,5.6"/>
<defs><linearGradient id="gob" x1="0" y1="0" x2="0" y2="1" gradientUnits="userSpaceOnUse" ></linearGradient><linearGradient id="gOB" gradientUnits="userSpaceOnUse" x1="0" y1="552.8" x2="0" y2="597.4"><stop offset="0" stop-color="#4caf50" stop-opacity="1"/><stop offset="1" stop-color="#4caf50" stop-opacity="0"/></linearGradient><linearGradient id="gOS" gradientUnits="userSpaceOnUse" x1="0" y1="656.9" x2="0" y2="701.5"><stop offset="0" stop-color="#ff5252" stop-opacity="0"/><stop offset="1" stop-color="#ff5252" stop-opacity="1"/></linearGradient><clipPath id="cOB"><rect x="9.5" y="500" width="1449" height="97.4"/></clipPath><clipPath id="cOS"><rect x="9.5" y="656.9" width="1449" height="100"/></clipPath><clipPath id="cPane"><rect x="9.5" y="0" width="1449" height="897"/></clipPath></defs>
<path d="M7.58,601.00 L12.37,598.82 L17.16,589.59 L21.95,592.08 L26.75,582.64 L31.54,576.66 L36.33,575.88 L41.12,596.71 L45.91,594.85 L50.71,602.13 L55.50,602.46 L60.29,616.10 L65.08,620.08 L69.87,623.60 L74.67,635.54 L79.46,643.32 L84.25,636.10 L89.04,640.19 L93.83,629.43 L98.63,625.34 L103.42,618.87 L108.21,626.30 L113.00,623.10 L117.79,630.02 L122.59,622.25 L127.38,623.10 L132.17,627.08 L136.96,624.13 L141.75,622.33 L146.55,632.79 L151.34,636.49 L156.13,639.51 L160.92,633.81 L165.71,649.09 L170.51,653.21 L175.30,652.56 L180.09,650.52 L184.88,654.85 L189.67,651.14 L194.47,642.75 L199.26,638.68 L204.05,635.16 L208.84,631.21 L213.63,631.44 L218.43,628.55 L223.22,633.67 L228.01,633.38 L232.80,629.11 L237.59,631.86 L242.39,629.51 L247.18,626.83 L251.97,626.83 L256.76,614.59 L261.55,604.60 L266.35,604.40 L271.14,610.45 L275.93,606.82 L280.72,601.84 L285.51,597.67 L290.31,603.65 L295.10,606.22 L299.89,612.04 L304.68,625.96 L309.47,620.06 L314.27,619.80 L319.06,621.66 L323.85,618.44 L328.64,609.71 L333.43,612.93 L338.23,612.27 L343.02,608.70 L347.81,605.79 L352.60,602.51 L357.39,596.00 L362.19,592.18 L366.98,585.02 L371.77,580.68 L376.56,576.80 L381.35,596.70 L386.15,590.51 L390.94,579.11 L395.73,578.55 L400.52,575.91 L405.31,587.85 L410.11,590.25 L414.90,598.99 L419.69,603.09 L424.48,602.23 L429.27,601.33 L434.07,597.70 L438.86,593.62 L443.65,600.07 L448.44,605.86 L453.23,611.18 L458.03,605.07 L462.82,600.37 L467.61,596.10 L472.40,590.46 L477.19,590.33 L481.99,589.56 L486.78,591.43 L491.57,591.38 L496.36,584.93 L501.15,575.32 L505.95,593.11 L510.74,590.32 L515.53,588.87 L520.32,602.80 L525.11,595.65 L529.91,595.47 L534.70,603.85 L539.49,599.27 L544.28,602.74 L549.07,614.43 L553.87,607.13 L558.66,617.08 L563.45,629.23 L568.24,629.12 L573.03,624.71 L577.83,623.64 L582.62,622.57 L587.41,620.16 L592.20,637.01 L596.99,630.80 L601.79,655.44 L606.58,648.61 L611.37,653.22 L616.16,644.25 L620.95,641.28 L625.75,641.35 L630.54,642.42 L635.33,644.96 L640.12,634.35 L644.91,619.53 L649.71,608.25 L654.50,609.48 L659.29,608.77 L664.08,610.00 L668.87,602.85 L673.67,615.12 L678.46,619.59 L683.25,620.12 L688.04,615.88 L692.83,619.98 L697.63,636.36 L702.42,640.37 L707.21,631.37 L712.00,632.58 L716.79,632.58 L721.59,632.58 L726.38,636.02 L731.17,637.04 L735.96,640.51 L740.75,641.54 L745.55,641.62 L750.34,634.80 L755.13,634.74 L759.92,635.35 L764.71,646.89 L769.51,643.32 L774.30,642.95 L779.09,641.24 L783.88,658.81 L788.67,655.42 L793.47,655.17 L798.26,656.35 L803.05,654.33 L807.84,646.37 L812.63,635.56 L817.43,639.76 L822.22,642.81 L827.01,638.41 L831.80,641.21 L836.59,641.32 L841.39,643.62 L846.18,636.87 L850.97,629.49 L855.76,630.06 L860.55,632.59 L865.35,625.24 L870.14,626.68 L874.93,630.82 L879.72,632.64 L884.51,636.33 L889.31,636.49 L894.10,643.93 L898.89,647.08 L903.68,644.73 L908.47,626.58 L913.27,635.28 L918.06,645.61 L922.85,640.58 L927.64,639.16 L932.43,638.98 L937.23,634.68 L942.02,638.66 L946.81,638.45 L951.60,630.30 L956.39,620.31 L961.19,626.87 L965.98,614.42 L970.77,619.19 L975.56,616.26 L980.35,613.45 L985.15,617.73 L989.94,617.51 L994.73,627.89 L999.52,625.75 L1004.31,624.68 L1009.11,622.32 L1013.90,624.42 L1018.69,622.72 L1023.48,626.87 L1028.27,623.10 L1033.07,622.34 L1037.86,622.11 L1042.65,620.42 L1047.44,612.16 L1052.23,612.47 L1057.03,619.08 L1061.82,612.29 L1066.61,606.03 L1071.40,603.69 L1076.19,594.55 L1080.99,618.40 L1085.78,618.40 L1090.57,621.31 L1095.36,621.55 L1100.15,625.38 L1104.95,625.26 L1109.74,623.74 L1114.53,628.29 L1119.32,642.58 L1124.11,642.43 L1128.91,633.01 L1133.70,634.96 L1138.49,642.67 L1143.28,637.87 L1148.07,638.20 L1152.87,628.21 L1157.66,628.60 L1162.45,633.75 L1167.24,650.31 L1172.03,655.96 L1176.83,644.05 L1181.62,639.87 L1186.41,632.57 L1191.20,637.61 L1195.99,638.68 L1200.79,635.67 L1205.58,636.19 L1210.37,635.77 L1215.16,637.50 L1219.95,637.02 L1224.75,631.60 L1229.54,631.89 L1234.33,631.37 L1239.12,634.21 L1243.91,630.45 L1248.71,635.84 L1253.50,641.34 L1258.29,642.77 L1263.08,637.35 L1267.87,659.42 L1272.67,664.57 L1277.46,668.15 L1282.25,675.92 L1287.04,664.28 L1291.83,664.78 L1296.63,660.58 L1301.42,663.00 L1301.42,597.43 L7.58,597.43 Z" fill="url(#gOB)" clip-path="url(#cOB)"/>
<path d="M7.58,601.00 L12.37,598.82 L17.16,589.59 L21.95,592.08 L26.75,582.64 L31.54,576.66 L36.33,575.88 L41.12,596.71 L45.91,594.85 L50.71,602.13 L55.50,602.46 L60.29,616.10 L65.08,620.08 L69.87,623.60 L74.67,635.54 L79.46,643.32 L84.25,636.10 L89.04,640.19 L93.83,629.43 L98.63,625.34 L103.42,618.87 L108.21,626.30 L113.00,623.10 L117.79,630.02 L122.59,622.25 L127.38,623.10 L132.17,627.08 L136.96,624.13 L141.75,622.33 L146.55,632.79 L151.34,636.49 L156.13,639.51 L160.92,633.81 L165.71,649.09 L170.51,653.21 L175.30,652.56 L180.09,650.52 L184.88,654.85 L189.67,651.14 L194.47,642.75 L199.26,638.68 L204.05,635.16 L208.84,631.21 L213.63,631.44 L218.43,628.55 L223.22,633.67 L228.01,633.38 L232.80,629.11 L237.59,631.86 L242.39,629.51 L247.18,626.83 L251.97,626.83 L256.76,614.59 L261.55,604.60 L266.35,604.40 L271.14,610.45 L275.93,606.82 L280.72,601.84 L285.51,597.67 L290.31,603.65 L295.10,606.22 L299.89,612.04 L304.68,625.96 L309.47,620.06 L314.27,619.80 L319.06,621.66 L323.85,618.44 L328.64,609.71 L333.43,612.93 L338.23,612.27 L343.02,608.70 L347.81,605.79 L352.60,602.51 L357.39,596.00 L362.19,592.18 L366.98,585.02 L371.77,580.68 L376.56,576.80 L381.35,596.70 L386.15,590.51 L390.94,579.11 L395.73,578.55 L400.52,575.91 L405.31,587.85 L410.11,590.25 L414.90,598.99 L419.69,603.09 L424.48,602.23 L429.27,601.33 L434.07,597.70 L438.86,593.62 L443.65,600.07 L448.44,605.86 L453.23,611.18 L458.03,605.07 L462.82,600.37 L467.61,596.10 L472.40,590.46 L477.19,590.33 L481.99,589.56 L486.78,591.43 L491.57,591.38 L496.36,584.93 L501.15,575.32 L505.95,593.11 L510.74,590.32 L515.53,588.87 L520.32,602.80 L525.11,595.65 L529.91,595.47 L534.70,603.85 L539.49,599.27 L544.28,602.74 L549.07,614.43 L553.87,607.13 L558.66,617.08 L563.45,629.23 L568.24,629.12 L573.03,624.71 L577.83,623.64 L582.62,622.57 L587.41,620.16 L592.20,637.01 L596.99,630.80 L601.79,655.44 L606.58,648.61 L611.37,653.22 L616.16,644.25 L620.95,641.28 L625.75,641.35 L630.54,642.42 L635.33,644.96 L640.12,634.35 L644.91,619.53 L649.71,608.25 L654.50,609.48 L659.29,608.77 L664.08,610.00 L668.87,602.85 L673.67,615.12 L678.46,619.59 L683.25,620.12 L688.04,615.88 L692.83,619.98 L697.63,636.36 L702.42,640.37 L707.21,631.37 L712.00,632.58 L716.79,632.58 L721.59,632.58 L726.38,636.02 L731.17,637.04 L735.96,640.51 L740.75,641.54 L745.55,641.62 L750.34,634.80 L755.13,634.74 L759.92,635.35 L764.71,646.89 L769.51,643.32 L774.30,642.95 L779.09,641.24 L783.88,658.81 L788.67,655.42 L793.47,655.17 L798.26,656.35 L803.05,654.33 L807.84,646.37 L812.63,635.56 L817.43,639.76 L822.22,642.81 L827.01,638.41 L831.80,641.21 L836.59,641.32 L841.39,643.62 L846.18,636.87 L850.97,629.49 L855.76,630.06 L860.55,632.59 L865.35,625.24 L870.14,626.68 L874.93,630.82 L879.72,632.64 L884.51,636.33 L889.31,636.49 L894.10,643.93 L898.89,647.08 L903.68,644.73 L908.47,626.58 L913.27,635.28 L918.06,645.61 L922.85,640.58 L927.64,639.16 L932.43,638.98 L937.23,634.68 L942.02,638.66 L946.81,638.45 L951.60,630.30 L956.39,620.31 L961.19,626.87 L965.98,614.42 L970.77,619.19 L975.56,616.26 L980.35,613.45 L985.15,617.73 L989.94,617.51 L994.73,627.89 L999.52,625.75 L1004.31,624.68 L1009.11,622.32 L1013.90,624.42 L1018.69,622.72 L1023.48,626.87 L1028.27,623.10 L1033.07,622.34 L1037.86,622.11 L1042.65,620.42 L1047.44,612.16 L1052.23,612.47 L1057.03,619.08 L1061.82,612.29 L1066.61,606.03 L1071.40,603.69 L1076.19,594.55 L1080.99,618.40 L1085.78,618.40 L1090.57,621.31 L1095.36,621.55 L1100.15,625.38 L1104.95,625.26 L1109.74,623.74 L1114.53,628.29 L1119.32,642.58 L1124.11,642.43 L1128.91,633.01 L1133.70,634.96 L1138.49,642.67 L1143.28,637.87 L1148.07,638.20 L1152.87,628.21 L1157.66,628.60 L1162.45,633.75 L1167.24,650.31 L1172.03,655.96 L1176.83,644.05 L1181.62,639.87 L1186.41,632.57 L1191.20,637.61 L1195.99,638.68 L1200.79,635.67 L1205.58,636.19 L1210.37,635.77 L1215.16,637.50 L1219.95,637.02 L1224.75,631.60 L1229.54,631.89 L1234.33,631.37 L1239.12,634.21 L1243.91,630.45 L1248.71,635.84 L1253.50,641.34 L1258.29,642.77 L1263.08,637.35 L1267.87,659.42 L1272.67,664.57 L1277.46,668.15 L1282.25,675.92 L1287.04,664.28 L1291.83,664.78 L1296.63,660.58 L1301.42,663.00 L1301.42,656.91 L7.58,656.91 Z" fill="url(#gOS)" clip-path="url(#cOS)"/>
<path d="M7.58,601.00 L12.37,598.82 L17.16,589.59 L21.95,592.08 L26.75,582.64 L31.54,576.66 L36.33,575.88 L41.12,596.71 L45.91,594.85 L50.71,602.13 L55.50,602.46 L60.29,616.10 L65.08,620.08 L69.87,623.60 L74.67,635.54 L79.46,643.32 L84.25,636.10 L89.04,640.19 L93.83,629.43 L98.63,625.34 L103.42,618.87 L108.21,626.30 L113.00,623.10 L117.79,630.02 L122.59,622.25 L127.38,623.10 L132.17,627.08 L136.96,624.13 L141.75,622.33 L146.55,632.79 L151.34,636.49 L156.13,639.51 L160.92,633.81 L165.71,649.09 L170.51,653.21 L175.30,652.56 L180.09,650.52 L184.88,654.85 L189.67,651.14 L194.47,642.75 L199.26,638.68 L204.05,635.16 L208.84,631.21 L213.63,631.44 L218.43,628.55 L223.22,633.67 L228.01,633.38 L232.80,629.11 L237.59,631.86 L242.39,629.51 L247.18,626.83 L251.97,626.83 L256.76,614.59 L261.55,604.60 L266.35,604.40 L271.14,610.45 L275.93,606.82 L280.72,601.84 L285.51,597.67 L290.31,603.65 L295.10,606.22 L299.89,612.04 L304.68,625.96 L309.47,620.06 L314.27,619.80 L319.06,621.66 L323.85,618.44 L328.64,609.71 L333.43,612.93 L338.23,612.27 L343.02,608.70 L347.81,605.79 L352.60,602.51 L357.39,596.00 L362.19,592.18 L366.98,585.02 L371.77,580.68 L376.56,576.80 L381.35,596.70 L386.15,590.51 L390.94,579.11 L395.73,578.55 L400.52,575.91 L405.31,587.85 L410.11,590.25 L414.90,598.99 L419.69,603.09 L424.48,602.23 L429.27,601.33 L434.07,597.70 L438.86,593.62 L443.65,600.07 L448.44,605.86 L453.23,611.18 L458.03,605.07 L462.82,600.37 L467.61,596.10 L472.40,590.46 L477.19,590.33 L481.99,589.56 L486.78,591.43 L491.57,591.38 L496.36,584.93 L501.15,575.32 L505.95,593.11 L510.74,590.32 L515.53,588.87 L520.32,602.80 L525.11,595.65 L529.91,595.47 L534.70,603.85 L539.49,599.27 L544.28,602.74 L549.07,614.43 L553.87,607.13 L558.66,617.08 L563.45,629.23 L568.24,629.12 L573.03,624.71 L577.83,623.64 L582.62,622.57 L587.41,620.16 L592.20,637.01 L596.99,630.80 L601.79,655.44 L606.58,648.61 L611.37,653.22 L616.16,644.25 L620.95,641.28 L625.75,641.35 L630.54,642.42 L635.33,644.96 L640.12,634.35 L644.91,619.53 L649.71,608.25 L654.50,609.48 L659.29,608.77 L664.08,610.00 L668.87,602.85 L673.67,615.12 L678.46,619.59 L683.25,620.12 L688.04,615.88 L692.83,619.98 L697.63,636.36 L702.42,640.37 L707.21,631.37 L712.00,632.58 L716.79,632.58 L721.59,632.58 L726.38,636.02 L731.17,637.04 L735.96,640.51 L740.75,641.54 L745.55,641.62 L750.34,634.80 L755.13,634.74 L759.92,635.35 L764.71,646.89 L769.51,643.32 L774.30,642.95 L779.09,641.24 L783.88,658.81 L788.67,655.42 L793.47,655.17 L798.26,656.35 L803.05,654.33 L807.84,646.37 L812.63,635.56 L817.43,639.76 L822.22,642.81 L827.01,638.41 L831.80,641.21 L836.59,641.32 L841.39,643.62 L846.18,636.87 L850.97,629.49 L855.76,630.06 L860.55,632.59 L865.35,625.24 L870.14,626.68 L874.93,630.82 L879.72,632.64 L884.51,636.33 L889.31,636.49 L894.10,643.93 L898.89,647.08 L903.68,644.73 L908.47,626.58 L913.27,635.28 L918.06,645.61 L922.85,640.58 L927.64,639.16 L932.43,638.98 L937.23,634.68 L942.02,638.66 L946.81,638.45 L951.60,630.30 L956.39,620.31 L961.19,626.87 L965.98,614.42 L970.77,619.19 L975.56,616.26 L980.35,613.45 L985.15,617.73 L989.94,617.51 L994.73,627.89 L999.52,625.75 L1004.31,624.68 L1009.11,622.32 L1013.90,624.42 L1018.69,622.72 L1023.48,626.87 L1028.27,623.10 L1033.07,622.34 L1037.86,622.11 L1042.65,620.42 L1047.44,612.16 L1052.23,612.47 L1057.03,619.08 L1061.82,612.29 L1066.61,606.03 L1071.40,603.69 L1076.19,594.55 L1080.99,618.40 L1085.78,618.40 L1090.57,621.31 L1095.36,621.55 L1100.15,625.38 L1104.95,625.26 L1109.74,623.74 L1114.53,628.29 L1119.32,642.58 L1124.11,642.43 L1128.91,633.01 L1133.70,634.96 L1138.49,642.67 L1143.28,637.87 L1148.07,638.20 L1152.87,628.21 L1157.66,628.60 L1162.45,633.75 L1167.24,650.31 L1172.03,655.96 L1176.83,644.05 L1181.62,639.87 L1186.41,632.57 L1191.20,637.61 L1195.99,638.68 L1200.79,635.67 L1205.58,636.19 L1210.37,635.77 L1215.16,637.50 L1219.95,637.02 L1224.75,631.60 L1229.54,631.89 L1234.33,631.37 L1239.12,634.21 L1243.91,630.45 L1248.71,635.84 L1253.50,641.34 L1258.29,642.77 L1263.08,637.35 L1267.87,659.42 L1272.67,664.57 L1277.46,668.15 L1282.25,675.92 L1287.04,664.28 L1291.83,664.78 L1296.63,660.58 L1301.42,663.00" clip-path="url(#cPane)" fill="none" stroke="#7e57c2" stroke-width="1.1" stroke-linejoin="round"/>
<path d="M7.58,599.51 L12.37,600.43 L17.16,600.93 L21.95,601.26 L26.75,600.47 L31.54,599.09 L36.33,597.50 L41.12,597.32 L45.91,596.94 L50.71,596.74 L55.50,596.48 L60.29,596.95 L65.08,597.59 L69.87,597.98 L74.67,600.51 L79.46,603.69 L84.25,607.01 L89.04,610.45 L93.83,613.79 L98.63,617.27 L103.42,620.34 L108.21,622.45 L113.00,624.47 L117.79,626.46 L122.59,627.87 L127.38,628.37 L132.17,628.87 L136.96,628.91 L141.75,627.97 L146.55,627.22 L151.34,627.24 L156.13,627.20 L160.92,627.51 L165.71,629.21 L170.51,631.66 L175.30,633.53 L180.09,635.49 L184.88,637.27 L189.67,639.33 L194.47,640.73 L199.26,641.56 L204.05,642.35 L208.84,642.98 L213.63,642.89 L218.43,642.32 L223.22,641.90 L228.01,641.87 L232.80,640.45 L237.59,638.92 L242.39,637.27 L247.18,635.58 L251.97,633.58 L256.76,630.97 L261.55,628.24 L266.35,625.80 L271.14,624.03 L275.93,622.29 L280.72,620.17 L285.51,617.97 L290.31,615.82 L295.10,613.88 L299.89,612.66 L304.68,612.24 L309.47,611.57 L314.27,611.07 L319.06,610.70 L323.85,610.97 L328.64,611.34 L333.43,611.95 L338.23,612.08 L343.02,612.21 L347.81,612.49 L352.60,612.84 L357.39,612.29 L362.19,611.29 L366.98,609.36 L371.77,606.13 L376.56,603.04 L381.35,601.39 L386.15,599.16 L390.94,596.35 L395.73,594.13 L400.52,591.48 L405.31,589.74 L410.11,588.42 L414.90,587.93 L419.69,587.98 L424.48,588.42 L429.27,589.07 L434.07,589.98 L438.86,590.90 L443.65,592.57 L448.44,593.22 L453.23,594.70 L458.03,596.55 L462.82,598.11 L467.61,599.55 L472.40,599.74 L477.19,599.74 L481.99,599.07 L486.78,598.24 L491.57,597.46 L496.36,596.29 L501.15,594.69 L505.95,594.66 L510.74,593.96 L515.53,592.75 L520.32,592.15 L525.11,591.47 L529.91,591.12 L534.70,591.68 L539.49,592.31 L544.28,593.19 L549.07,594.97 L553.87,596.09 L558.66,597.93 L563.45,601.09 L568.24,604.94 L573.03,607.19 L577.83,609.57 L582.62,611.98 L587.41,613.22 L592.20,616.17 L596.99,618.70 L601.79,622.38 L606.58,625.91 L611.37,629.51 L616.16,631.64 L620.95,634.08 L625.75,635.81 L630.54,636.76 L635.33,637.89 L640.12,638.58 L644.91,638.28 L649.71,637.26 L654.50,636.50 L659.29,634.48 L664.08,632.99 L668.87,629.24 L673.67,626.84 L678.46,624.44 L683.25,622.72 L688.04,620.90 L692.83,619.38 L697.63,618.95 L702.42,618.62 L707.21,618.40 L712.00,619.34 L716.79,621.08 L721.59,622.73 L726.38,624.67 L731.17,626.60 L735.96,629.29 L740.75,631.18 L745.55,632.75 L750.34,633.80 L755.13,635.15 L759.92,636.25 L764.71,637.00 L769.51,637.21 L774.30,638.04 L779.09,638.66 L783.88,640.53 L788.67,642.16 L793.47,643.53 L798.26,644.91 L803.05,645.90 L807.84,646.24 L812.63,645.81 L817.43,646.16 L822.22,646.74 L827.01,646.96 L831.80,646.55 L836.59,646.41 L841.39,646.46 L846.18,646.14 L850.97,644.05 L855.76,642.24 L860.55,640.63 L865.35,638.40 L870.14,636.43 L874.93,635.32 L879.72,635.11 L884.51,634.86 L889.31,634.41 L894.10,634.81 L898.89,635.23 L903.68,635.47 L908.47,634.25 L913.27,634.14 L918.06,635.29 L922.85,636.04 L927.64,636.51 L932.43,637.49 L937.23,638.06 L942.02,638.62 L946.81,639.04 L951.60,638.61 L956.39,637.45 L961.19,636.23 L965.98,633.90 L970.77,632.08 L975.56,631.34 L980.35,629.78 L985.15,627.79 L989.94,626.14 L994.73,625.34 L999.52,624.39 L1004.31,623.68 L1009.11,622.51 L1013.90,621.51 L1018.69,620.97 L1023.48,621.44 L1028.27,621.17 L1033.07,621.73 L1037.86,621.94 L1042.65,622.24 L1047.44,622.14 L1052.23,621.77 L1057.03,621.88 L1061.82,620.77 L1066.61,619.36 L1071.40,617.86 L1076.19,615.88 L1080.99,615.44 L1085.78,615.14 L1090.57,614.74 L1095.36,614.63 L1100.15,614.84 L1104.95,615.07 L1109.74,615.31 L1114.53,616.46 L1119.32,618.61 L1124.11,620.28 L1128.91,621.76 L1133.70,623.82 L1138.49,626.61 L1143.28,629.70 L1148.07,631.12 L1152.87,631.82 L1157.66,632.34 L1162.45,633.21 L1167.24,634.99 L1172.03,637.18 L1176.83,638.64 L1181.62,639.46 L1186.41,638.75 L1191.20,638.40 L1195.99,638.81 L1200.79,638.86 L1205.58,638.40 L1210.37,638.25 L1215.16,638.20 L1219.95,638.83 L1224.75,639.04 L1229.54,638.91 L1234.33,637.55 L1239.12,636.00 L1243.91,635.03 L1248.71,634.74 L1253.50,635.37 L1258.29,635.74 L1263.08,635.64 L1267.87,637.34 L1272.67,639.36 L1277.46,641.68 L1282.25,644.42 L1287.04,646.37 L1291.83,648.74 L1296.63,650.79 L1301.42,653.05" clip-path="url(#cPane)" fill="none" stroke="#f9d145" stroke-width="1.1" stroke-linejoin="round"/>
<path d="M15.36,756.21h3.6v1.19h-3.6ZM20.15,755.65h3.6v1.75h-3.6ZM24.95,753.62h3.6v3.78h-3.6ZM29.74,750.83h3.6v6.57h-3.6ZM34.53,749.33h3.6v8.07h-3.6ZM211.83,756.09h3.6v1.31h-3.6ZM216.63,754.83h3.6v2.57h-3.6ZM221.42,754.66h3.6v2.74h-3.6ZM226.21,754.55h3.6v2.85h-3.6ZM231.00,754.09h3.6v3.31h-3.6ZM240.59,754.05h3.6v3.35h-3.6ZM245.38,753.82h3.6v3.58h-3.6ZM250.17,753.77h3.6v3.63h-3.6ZM254.96,752.64h3.6v4.76h-3.6ZM259.75,750.79h3.6v6.61h-3.6ZM264.55,749.89h3.6v7.51h-3.6ZM278.92,749.94h3.6v7.46h-3.6ZM283.71,749.50h3.6v7.90h-3.6ZM326.84,757.23h3.6v0.80h-3.6ZM331.63,757.08h3.6v0.80h-3.6ZM336.43,757.01h3.6v0.80h-3.6ZM341.22,756.67h3.6v0.80h-3.6ZM346.01,756.25h3.6v1.15h-3.6ZM350.80,755.74h3.6v1.66h-3.6ZM355.59,754.70h3.6v2.70h-3.6ZM360.39,753.67h3.6v3.73h-3.6ZM365.18,751.89h3.6v5.51h-3.6ZM369.97,750.03h3.6v7.37h-3.6ZM374.76,748.11h3.6v9.29h-3.6ZM384.35,748.90h3.6v8.50h-3.6ZM389.14,744.96h3.6v12.44h-3.6ZM393.93,743.07h3.6v14.33h-3.6ZM398.72,741.42h3.6v15.98h-3.6ZM470.60,756.84h3.6v0.80h-3.6ZM475.39,755.58h3.6v1.82h-3.6ZM480.19,754.98h3.6v2.42h-3.6ZM494.56,754.81h3.6v2.59h-3.6ZM499.35,749.90h3.6v7.50h-3.6ZM508.94,749.69h3.6v7.71h-3.6ZM513.73,749.69h3.6v7.71h-3.6ZM523.31,752.57h3.6v4.83h-3.6ZM647.91,746.62h3.6v10.78h-3.6ZM652.70,740.28h3.6v17.12h-3.6ZM657.49,736.69h3.6v20.71h-3.6ZM662.28,735.77h3.6v21.63h-3.6ZM667.07,732.73h3.6v24.67h-3.6ZM820.42,756.86h3.6v0.80h-3.6ZM825.21,755.07h3.6v2.33h-3.6ZM830.00,754.52h3.6v2.88h-3.6ZM834.79,754.03h3.6v3.37h-3.6ZM844.38,752.95h3.6v4.45h-3.6ZM849.17,750.71h3.6v6.69h-3.6ZM853.96,749.48h3.6v7.92h-3.6ZM858.75,749.37h3.6v8.03h-3.6ZM863.55,748.11h3.6v9.29h-3.6ZM868.34,747.84h3.6v9.56h-3.6ZM906.67,755.74h3.6v1.66h-3.6ZM945.01,757.21h3.6v0.80h-3.6ZM949.80,755.76h3.6v1.64h-3.6ZM954.59,753.07h3.6v4.33h-3.6ZM959.39,752.57h3.6v4.83h-3.6ZM964.18,749.86h3.6v7.54h-3.6ZM968.97,749.26h3.6v8.14h-3.6ZM973.76,748.59h3.6v8.81h-3.6ZM978.55,747.95h3.6v9.45h-3.6ZM1031.27,756.98h3.6v0.80h-3.6ZM1040.85,756.88h3.6v0.80h-3.6ZM1045.64,755.77h3.6v1.63h-3.6ZM1050.43,755.24h3.6v2.16h-3.6ZM1060.02,755.22h3.6v2.18h-3.6ZM1064.81,754.15h3.6v3.25h-3.6ZM1069.60,753.34h3.6v4.06h-3.6ZM1074.39,751.35h3.6v6.05h-3.6ZM1213.36,757.30h3.6v0.80h-3.6ZM1218.15,757.01h3.6v0.80h-3.6ZM1222.95,756.25h3.6v1.15h-3.6ZM1227.74,755.77h3.6v1.63h-3.6ZM1232.53,755.42h3.6v1.98h-3.6ZM1242.11,755.24h3.6v2.16h-3.6ZM1261.28,757.02h3.6v0.80h-3.6Z" fill="#26a69a"/>
<path d="M39.32,750.69h3.6v6.71h-3.6ZM44.11,751.70h3.6v5.70h-3.6ZM48.91,753.53h3.6v3.87h-3.6ZM53.70,755.16h3.6v2.24h-3.6ZM235.79,754.16h3.6v3.24h-3.6ZM269.34,750.17h3.6v7.23h-3.6ZM274.13,750.23h3.6v7.17h-3.6ZM288.51,750.12h3.6v7.28h-3.6ZM293.30,751.13h3.6v6.27h-3.6ZM298.09,752.60h3.6v4.80h-3.6ZM302.88,755.08h3.6v2.32h-3.6ZM307.67,756.20h3.6v1.20h-3.6ZM312.47,757.01h3.6v0.80h-3.6ZM379.55,749.17h3.6v8.23h-3.6ZM403.51,742.92h3.6v14.48h-3.6ZM408.31,745.24h3.6v12.16h-3.6ZM413.10,748.79h3.6v8.61h-3.6ZM417.89,752.39h3.6v5.01h-3.6ZM422.68,755.07h3.6v2.33h-3.6ZM427.47,757.04h3.6v0.80h-3.6ZM484.98,755.29h3.6v2.11h-3.6ZM489.77,755.94h3.6v1.46h-3.6ZM504.15,750.01h3.6v7.39h-3.6ZM518.52,752.69h3.6v4.71h-3.6ZM528.11,753.15h3.6v4.25h-3.6ZM532.90,755.60h3.6v1.80h-3.6ZM537.69,756.09h3.6v1.31h-3.6ZM671.87,735.84h3.6v21.56h-3.6ZM676.66,740.48h3.6v16.92h-3.6ZM681.45,744.54h3.6v12.86h-3.6ZM686.24,746.16h3.6v11.24h-3.6ZM691.03,749.16h3.6v8.24h-3.6ZM839.59,754.18h3.6v3.22h-3.6ZM873.13,748.73h3.6v8.67h-3.6ZM877.92,749.90h3.6v7.50h-3.6ZM882.71,751.54h3.6v5.86h-3.6ZM887.51,752.76h3.6v4.64h-3.6ZM892.30,755.05h3.6v2.35h-3.6ZM897.09,757.16h3.6v0.80h-3.6ZM911.47,755.91h3.6v1.49h-3.6ZM983.35,748.67h3.6v8.73h-3.6ZM988.14,749.50h3.6v7.90h-3.6ZM992.93,752.10h3.6v5.30h-3.6ZM997.72,753.64h3.6v3.76h-3.6ZM1002.51,754.65h3.6v2.75h-3.6ZM1007.31,755.06h3.6v2.34h-3.6ZM1012.10,755.76h3.6v1.64h-3.6ZM1016.89,756.06h3.6v1.34h-3.6ZM1021.68,756.90h3.6v0.80h-3.6ZM1026.47,756.98h3.6v0.80h-3.6ZM1036.06,757.01h3.6v0.80h-3.6ZM1055.23,755.68h3.6v1.72h-3.6ZM1079.19,753.12h3.6v4.28h-3.6ZM1083.98,754.56h3.6v2.84h-3.6ZM1088.77,756.08h3.6v1.32h-3.6ZM1093.56,757.23h3.6v0.80h-3.6ZM1237.32,755.48h3.6v1.92h-3.6ZM1246.91,755.62h3.6v1.78h-3.6ZM1251.70,756.42h3.6v0.98h-3.6ZM1256.49,757.04h3.6v0.80h-3.6Z" fill="#b2dfdb"/>
<path d="M58.49,757.40h3.6v0.80h-3.6ZM63.28,757.40h3.6v2.87h-3.6ZM68.07,757.40h3.6v4.85h-3.6ZM72.87,757.40h3.6v7.62h-3.6ZM77.66,757.40h3.6v10.42h-3.6ZM82.45,757.40h3.6v10.97h-3.6ZM87.24,757.40h3.6v11.57h-3.6ZM115.99,757.40h3.6v3.88h-3.6ZM130.37,757.40h3.6v1.94h-3.6ZM144.75,757.40h3.6v1.95h-3.6ZM149.54,757.40h3.6v3.08h-3.6ZM154.33,757.40h3.6v4.13h-3.6ZM163.91,757.40h3.6v6.32h-3.6ZM168.71,757.40h3.6v8.44h-3.6ZM173.50,757.40h3.6v9.23h-3.6ZM183.08,757.40h3.6v9.20h-3.6ZM317.26,757.40h3.6v0.80h-3.6ZM322.05,757.40h3.6v0.80h-3.6ZM432.27,757.40h3.6v0.80h-3.6ZM441.85,757.40h3.6v1.01h-3.6ZM446.64,757.40h3.6v2.62h-3.6ZM451.43,757.40h3.6v4.54h-3.6ZM456.23,757.40h3.6v4.58h-3.6ZM542.48,757.40h3.6v0.80h-3.6ZM547.27,757.40h3.6v3.69h-3.6ZM552.07,757.40h3.6v3.91h-3.6ZM556.86,757.40h3.6v6.41h-3.6ZM561.65,757.40h3.6v11.21h-3.6ZM566.44,757.40h3.6v14.03h-3.6ZM571.23,757.40h3.6v14.30h-3.6ZM590.40,757.40h3.6v14.08h-3.6ZM599.99,757.40h3.6v23.13h-3.6ZM604.78,757.40h3.6v25.99h-3.6ZM609.57,757.40h3.6v29.03h-3.6ZM695.83,757.40h3.6v0.80h-3.6ZM700.62,757.40h3.6v7.85h-3.6ZM705.41,757.40h3.6v8.99h-3.6ZM710.20,757.40h3.6v9.87h-3.6ZM714.99,757.40h3.6v10.00h-3.6ZM724.58,757.40h3.6v10.19h-3.6ZM729.37,757.40h3.6v10.40h-3.6ZM734.16,757.40h3.6v11.24h-3.6ZM738.95,757.40h3.6v11.53h-3.6ZM762.91,757.40h3.6v6.94h-3.6ZM767.71,757.40h3.6v7.03h-3.6ZM782.08,757.40h3.6v10.67h-3.6ZM786.87,757.40h3.6v12.57h-3.6ZM791.67,757.40h3.6v12.83h-3.6ZM901.88,757.40h3.6v0.80h-3.6ZM916.26,757.40h3.6v1.02h-3.6ZM921.05,757.40h3.6v1.56h-3.6ZM1098.35,757.40h3.6v1.13h-3.6ZM1103.15,757.40h3.6v1.97h-3.6ZM1107.94,757.40h3.6v2.32h-3.6ZM1112.73,757.40h3.6v2.99h-3.6ZM1117.52,757.40h3.6v5.21h-3.6ZM1122.31,757.40h3.6v6.39h-3.6ZM1136.69,757.40h3.6v6.17h-3.6ZM1165.44,757.40h3.6v4.31h-3.6ZM1170.23,757.40h3.6v6.59h-3.6ZM1266.07,757.40h3.6v2.53h-3.6ZM1270.87,757.40h3.6v5.26h-3.6ZM1275.66,757.40h3.6v7.52h-3.6ZM1280.45,757.40h3.6v11.09h-3.6ZM1285.24,757.40h3.6v11.51h-3.6Z" fill="#ff5252"/>
<path d="M10.57,757.40h3.6v0.80h-3.6ZM92.03,757.40h3.6v10.09h-3.6ZM96.83,757.40h3.6v8.17h-3.6ZM101.62,757.40h3.6v5.64h-3.6ZM106.41,757.40h3.6v4.87h-3.6ZM111.20,757.40h3.6v3.72h-3.6ZM120.79,757.40h3.6v2.65h-3.6ZM125.58,757.40h3.6v1.91h-3.6ZM135.16,757.40h3.6v1.49h-3.6ZM139.95,757.40h3.6v0.92h-3.6ZM159.12,757.40h3.6v3.93h-3.6ZM178.29,757.40h3.6v8.97h-3.6ZM187.87,757.40h3.6v8.39h-3.6ZM192.67,757.40h3.6v6.42h-3.6ZM197.46,757.40h3.6v4.26h-3.6ZM202.25,757.40h3.6v2.14h-3.6ZM207.04,757.40h3.6v0.80h-3.6ZM437.06,757.40h3.6v0.80h-3.6ZM461.02,757.40h3.6v3.60h-3.6ZM465.81,757.40h3.6v1.99h-3.6ZM576.03,757.40h3.6v13.80h-3.6ZM580.82,757.40h3.6v12.83h-3.6ZM585.61,757.40h3.6v11.26h-3.6ZM595.19,757.40h3.6v13.87h-3.6ZM614.36,757.40h3.6v26.82h-3.6ZM619.15,757.40h3.6v23.08h-3.6ZM623.95,757.40h3.6v19.48h-3.6ZM628.74,757.40h3.6v16.52h-3.6ZM633.53,757.40h3.6v14.66h-3.6ZM638.32,757.40h3.6v9.63h-3.6ZM643.11,757.40h3.6v0.80h-3.6ZM719.79,757.40h3.6v9.62h-3.6ZM743.75,757.40h3.6v11.08h-3.6ZM748.54,757.40h3.6v8.57h-3.6ZM753.33,757.40h3.6v6.44h-3.6ZM758.12,757.40h3.6v4.82h-3.6ZM772.50,757.40h3.6v6.49h-3.6ZM777.29,757.40h3.6v5.33h-3.6ZM796.46,757.40h3.6v12.54h-3.6ZM801.25,757.40h3.6v11.06h-3.6ZM806.04,757.40h3.6v7.81h-3.6ZM810.83,757.40h3.6v2.82h-3.6ZM815.63,757.40h3.6v0.80h-3.6ZM925.84,757.40h3.6v1.44h-3.6ZM930.63,757.40h3.6v1.12h-3.6ZM935.43,757.40h3.6v0.80h-3.6ZM940.22,757.40h3.6v0.80h-3.6ZM1127.11,757.40h3.6v5.89h-3.6ZM1131.90,757.40h3.6v5.56h-3.6ZM1141.48,757.40h3.6v5.77h-3.6ZM1146.27,757.40h3.6v5.26h-3.6ZM1151.07,757.40h3.6v3.62h-3.6ZM1155.86,757.40h3.6v2.43h-3.6ZM1160.65,757.40h3.6v2.13h-3.6ZM1175.03,757.40h3.6v6.33h-3.6ZM1179.82,757.40h3.6v5.28h-3.6ZM1184.61,757.40h3.6v3.34h-3.6ZM1189.40,757.40h3.6v2.67h-3.6ZM1194.19,757.40h3.6v2.20h-3.6ZM1198.99,757.40h3.6v1.35h-3.6ZM1203.78,757.40h3.6v0.80h-3.6ZM1208.57,757.40h3.6v0.80h-3.6ZM1290.03,757.40h3.6v11.17h-3.6ZM1294.83,757.40h3.6v9.79h-3.6ZM1299.62,757.40h3.6v8.82h-3.6Z" fill="#ffcdd2"/>
<path d="M7.58,741.43 L12.37,739.99 L17.16,738.21 L21.95,737.21 L26.75,734.23 L31.54,729.81 L36.33,726.29 L41.12,725.96 L45.91,725.55 L50.71,726.42 L55.50,727.49 L60.29,730.35 L65.08,733.44 L69.87,736.64 L74.67,741.31 L79.46,746.72 L84.25,750.01 L89.04,753.50 L93.83,754.55 L98.63,754.67 L103.42,753.54 L108.21,753.99 L113.00,753.77 L117.79,754.90 L122.59,754.33 L127.38,754.07 L132.17,754.59 L136.96,754.51 L141.75,754.17 L146.55,755.68 L151.34,757.59 L156.13,759.67 L160.92,760.45 L165.71,764.42 L170.51,768.66 L175.30,771.75 L180.09,773.74 L184.88,776.26 L189.67,777.55 L194.47,777.19 L199.26,776.09 L204.05,774.50 L208.84,772.48 L213.63,770.75 L218.43,768.85 L223.22,767.99 L228.01,767.17 L232.80,765.88 L237.59,765.14 L242.39,764.19 L247.18,763.06 L251.97,762.11 L256.76,759.79 L261.55,756.28 L266.35,753.52 L271.14,751.98 L275.93,750.25 L280.72,748.09 L285.51,745.68 L290.31,744.47 L295.10,743.92 L299.89,744.19 L304.68,746.09 L309.47,746.90 L314.27,747.62 L319.06,748.50 L323.85,748.89 L328.64,748.05 L333.43,747.82 L338.23,747.65 L343.02,747.14 L347.81,746.43 L352.60,745.50 L357.39,743.78 L362.19,741.82 L366.98,738.66 L371.77,734.97 L376.56,730.72 L381.35,729.73 L386.15,727.33 L390.94,720.28 L395.73,714.81 L400.52,709.17 L405.31,707.04 L410.11,706.32 L414.90,707.72 L419.69,710.06 L424.48,712.16 L429.27,714.04 L434.07,714.87 L438.86,714.59 L443.65,715.78 L448.44,718.05 L453.23,721.10 L458.03,722.29 L462.82,722.20 L467.61,721.09 L472.40,718.40 L477.19,716.68 L481.99,715.48 L486.78,715.26 L491.57,715.55 L496.36,713.77 L501.15,706.99 L505.95,705.25 L510.74,703.01 L515.53,701.08 L520.32,702.90 L525.11,701.57 L529.91,701.08 L534.70,703.09 L539.49,703.25 L544.28,704.74 L549.07,709.20 L553.87,710.40 L558.66,714.50 L563.45,722.11 L568.24,728.43 L573.03,732.28 L577.83,735.23 L582.62,737.47 L587.41,738.71 L592.20,745.05 L596.99,748.31 L601.79,763.35 L606.58,772.72 L611.37,783.00 L616.16,787.50 L620.95,789.54 L625.75,790.80 L630.54,791.97 L635.33,793.77 L640.12,791.15 L644.91,782.22 L649.71,768.19 L654.50,757.56 L659.29,748.80 L664.08,742.47 L668.87,733.27 L673.67,730.99 L678.46,731.40 L683.25,732.24 L688.04,731.04 L692.83,731.99 L697.63,740.75 L702.42,750.14 L707.21,753.54 L712.00,756.88 L716.79,759.51 L721.59,761.54 L726.38,764.65 L731.17,767.46 L735.96,771.12 L740.75,774.28 L745.55,776.61 L750.34,776.24 L755.13,775.72 L759.92,775.31 L764.71,779.16 L769.51,781.01 L774.30,782.09 L779.09,782.26 L783.88,790.27 L788.67,795.32 L793.47,798.78 L798.26,801.62 L803.05,802.91 L807.84,801.61 L812.63,797.33 L817.43,795.03 L822.22,793.94 L827.01,791.57 L831.80,790.30 L836.59,788.96 L841.39,788.31 L846.18,785.97 L850.97,782.05 L855.76,778.85 L860.55,776.73 L865.35,773.15 L870.14,770.49 L874.93,769.21 L879.72,768.50 L884.51,768.69 L889.31,768.74 L894.10,770.45 L898.89,772.49 L903.68,773.55 L908.47,770.82 L913.27,770.62 L918.06,773.38 L922.85,774.31 L927.64,774.55 L932.43,774.51 L937.23,773.45 L942.02,773.42 L946.81,773.17 L951.60,771.31 L956.39,767.54 L961.19,765.83 L965.98,761.23 L970.77,758.60 L975.56,755.73 L980.35,752.73 L985.15,751.26 L989.94,750.12 L994.73,751.39 L999.52,751.99 L1004.31,752.31 L1009.11,752.13 L1013.90,752.43 L1018.69,752.40 L1023.48,753.11 L1028.27,753.08 L1033.07,752.97 L1037.86,752.90 L1042.65,752.64 L1047.44,751.13 L1052.23,750.06 L1057.03,750.07 L1061.82,749.06 L1066.61,747.19 L1071.40,745.36 L1076.19,741.85 L1080.99,742.56 L1085.78,743.28 L1090.57,744.47 L1095.36,745.58 L1100.15,747.16 L1104.95,748.50 L1109.74,749.42 L1114.53,750.85 L1119.32,754.37 L1124.11,757.15 L1128.91,758.12 L1133.70,759.18 L1138.49,761.33 L1143.28,762.37 L1148.07,763.18 L1152.87,762.44 L1157.66,761.86 L1162.45,762.09 L1167.24,765.35 L1172.03,769.28 L1176.83,770.60 L1181.62,770.87 L1186.41,769.76 L1191.20,769.76 L1195.99,769.85 L1200.79,769.33 L1205.58,768.88 L1210.37,768.34 L1215.16,768.07 L1219.95,767.68 L1224.75,766.63 L1229.54,765.74 L1234.33,764.90 L1239.12,764.48 L1243.91,763.70 L1248.71,763.63 L1253.50,764.18 L1258.29,764.72 L1263.08,764.60 L1267.87,768.14 L1272.67,772.19 L1277.46,776.33 L1282.25,782.68 L1287.04,785.98 L1291.83,788.42 L1296.63,789.49 L1301.42,790.73" clip-path="url(#cPane)" fill="none" stroke="#2962ff" stroke-width="1.1" stroke-linejoin="round"/>
<path d="M7.58,739.79 L12.37,739.70 L17.16,739.40 L21.95,738.96 L26.75,738.02 L31.54,736.38 L36.33,734.36 L41.12,732.68 L45.91,731.25 L50.71,730.29 L55.50,729.73 L60.29,729.85 L65.08,730.57 L69.87,731.78 L74.67,733.69 L79.46,736.29 L84.25,739.04 L89.04,741.93 L93.83,744.45 L98.63,746.49 L103.42,747.90 L108.21,749.12 L113.00,750.05 L117.79,751.02 L122.59,751.68 L127.38,752.16 L132.17,752.65 L136.96,753.02 L141.75,753.25 L146.55,753.74 L151.34,754.51 L156.13,755.54 L160.92,756.52 L165.71,758.10 L170.51,760.21 L175.30,762.52 L180.09,764.76 L184.88,767.06 L189.67,769.16 L194.47,770.77 L199.26,771.83 L204.05,772.37 L208.84,772.39 L213.63,772.06 L218.43,771.42 L223.22,770.73 L228.01,770.02 L232.80,769.19 L237.59,768.38 L242.39,767.54 L247.18,766.65 L251.97,765.74 L256.76,764.55 L261.55,762.90 L266.35,761.02 L271.14,759.21 L275.93,757.42 L280.72,755.55 L285.51,753.58 L290.31,751.76 L295.10,750.19 L299.89,748.99 L304.68,748.41 L309.47,748.11 L314.27,748.01 L319.06,748.11 L323.85,748.27 L328.64,748.22 L333.43,748.14 L338.23,748.04 L343.02,747.86 L347.81,747.57 L352.60,747.16 L357.39,746.48 L362.19,745.55 L366.98,744.17 L371.77,742.33 L376.56,740.01 L381.35,737.95 L386.15,735.83 L390.94,732.72 L395.73,729.14 L400.52,725.14 L405.31,721.52 L410.11,718.48 L414.90,716.33 L419.69,715.08 L424.48,714.49 L429.27,714.40 L434.07,714.50 L438.86,714.52 L443.65,714.77 L448.44,715.42 L453.23,716.56 L458.03,717.70 L462.82,718.60 L467.61,719.10 L472.40,718.96 L477.19,718.50 L481.99,717.90 L486.78,717.37 L491.57,717.01 L496.36,716.36 L501.15,714.49 L505.95,712.64 L510.74,710.71 L515.53,708.79 L520.32,707.61 L525.11,706.40 L529.91,705.34 L534.70,704.89 L539.49,704.56 L544.28,704.60 L549.07,705.52 L553.87,706.49 L558.66,708.10 L563.45,710.90 L568.24,714.41 L573.03,717.98 L577.83,721.43 L582.62,724.64 L587.41,727.45 L592.20,730.97 L596.99,734.44 L601.79,740.22 L606.58,746.72 L611.37,753.98 L616.16,760.68 L620.95,766.45 L625.75,771.32 L630.54,775.45 L635.33,779.12 L640.12,781.52 L644.91,781.66 L649.71,778.97 L654.50,774.69 L659.29,769.51 L664.08,764.10 L668.87,757.94 L673.67,752.55 L678.46,748.32 L683.25,745.10 L688.04,742.29 L692.83,740.23 L697.63,740.33 L702.42,742.30 L707.21,744.54 L712.00,747.01 L716.79,749.51 L721.59,751.92 L726.38,754.46 L731.17,757.06 L735.96,759.87 L740.75,762.76 L745.55,765.53 L750.34,767.67 L755.13,769.28 L759.92,770.48 L764.71,772.22 L769.51,773.98 L774.30,775.60 L779.09,776.93 L783.88,779.60 L788.67,782.74 L793.47,785.95 L798.26,789.09 L803.05,791.85 L807.84,793.80 L812.63,794.51 L817.43,794.61 L822.22,794.48 L827.01,793.90 L831.80,793.18 L836.59,792.33 L841.39,791.53 L846.18,790.42 L850.97,788.74 L855.76,786.76 L860.55,784.76 L865.35,782.44 L870.14,780.05 L874.93,777.88 L879.72,776.00 L884.51,774.54 L889.31,773.38 L894.10,772.79 L898.89,772.73 L903.68,772.90 L908.47,772.48 L913.27,772.11 L918.06,772.36 L922.85,772.75 L927.64,773.11 L932.43,773.39 L937.23,773.40 L942.02,773.41 L946.81,773.36 L951.60,772.95 L956.39,771.87 L961.19,770.66 L965.98,768.77 L970.77,766.74 L975.56,764.54 L980.35,762.17 L985.15,759.99 L989.94,758.02 L994.73,756.69 L999.52,755.75 L1004.31,755.06 L1009.11,754.48 L1013.90,754.07 L1018.69,753.73 L1023.48,753.61 L1028.27,753.50 L1033.07,753.40 L1037.86,753.30 L1042.65,753.17 L1047.44,752.76 L1052.23,752.22 L1057.03,751.79 L1061.82,751.24 L1066.61,750.43 L1071.40,749.42 L1076.19,747.90 L1080.99,746.84 L1085.78,746.13 L1090.57,745.79 L1095.36,745.75 L1100.15,746.03 L1104.95,746.53 L1109.74,747.11 L1114.53,747.85 L1119.32,749.16 L1124.11,750.76 L1128.91,752.23 L1133.70,753.62 L1138.49,755.16 L1143.28,756.60 L1148.07,757.92 L1152.87,758.82 L1157.66,759.43 L1162.45,759.96 L1167.24,761.04 L1172.03,762.69 L1176.83,764.27 L1181.62,765.59 L1186.41,766.42 L1191.20,767.09 L1195.99,767.64 L1200.79,767.98 L1205.58,768.16 L1210.37,768.19 L1215.16,768.17 L1219.95,768.07 L1224.75,767.78 L1229.54,767.38 L1234.33,766.88 L1239.12,766.40 L1243.91,765.86 L1248.71,765.41 L1253.50,765.17 L1258.29,765.08 L1263.08,764.98 L1267.87,765.62 L1272.67,766.93 L1277.46,768.81 L1282.25,771.58 L1287.04,774.46 L1291.83,777.25 L1296.63,779.70 L1301.42,781.91" clip-path="url(#cPane)" fill="none" stroke="#f23645" stroke-width="1.1" stroke-linejoin="round"/>
<text x="1467.8" y="554.7" font-size="11" fill="#131722" stroke="#131722" stroke-width="0.28" font-weight="400" text-anchor="start" textLength="37.5" lengthAdjust="spacingAndGlyphs">800.00</text>
<text x="1467.8" y="522.8800000000001" font-size="11" fill="#131722" stroke="#131722" stroke-width="0.28" font-weight="400" text-anchor="start" textLength="37.5" lengthAdjust="spacingAndGlyphs">840.00</text>
<text x="1467.8" y="491.05999999999995" font-size="11" fill="#131722" stroke="#131722" stroke-width="0.28" font-weight="400" text-anchor="start" textLength="37.5" lengthAdjust="spacingAndGlyphs">880.00</text>
<text x="1467.8" y="459.23999999999995" font-size="11" fill="#131722" stroke="#131722" stroke-width="0.28" font-weight="400" text-anchor="start" textLength="37.5" lengthAdjust="spacingAndGlyphs">920.00</text>
<text x="1467.8" y="427.41999999999996" font-size="11" fill="#131722" stroke="#131722" stroke-width="0.28" font-weight="400" text-anchor="start" textLength="37.5" lengthAdjust="spacingAndGlyphs">960.00</text>
<text x="1467.8" y="395.59999999999997" font-size="11" fill="#131722" stroke="#131722" stroke-width="0.28" font-weight="400" text-anchor="start" textLength="47.5" lengthAdjust="spacingAndGlyphs">1,000.00</text>
<text x="1467.8" y="363.78" font-size="11" fill="#131722" stroke="#131722" stroke-width="0.28" font-weight="400" text-anchor="start" textLength="47.5" lengthAdjust="spacingAndGlyphs">1,040.00</text>
<text x="1467.8" y="331.96" font-size="11" fill="#131722" stroke="#131722" stroke-width="0.28" font-weight="400" text-anchor="start" textLength="47.5" lengthAdjust="spacingAndGlyphs">1,080.00</text>
<text x="1467.8" y="300.14" font-size="11" fill="#131722" stroke="#131722" stroke-width="0.28" font-weight="400" text-anchor="start" textLength="47.5" lengthAdjust="spacingAndGlyphs">1,120.00</text>
<text x="1467.8" y="268.32" font-size="11" fill="#131722" stroke="#131722" stroke-width="0.28" font-weight="400" text-anchor="start" textLength="47.5" lengthAdjust="spacingAndGlyphs">1,160.00</text>
<text x="1467.8" y="236.5" font-size="11" fill="#131722" stroke="#131722" stroke-width="0.28" font-weight="400" text-anchor="start" textLength="47.5" lengthAdjust="spacingAndGlyphs">1,200.00</text>
<text x="1467.8" y="204.68" font-size="11" fill="#131722" stroke="#131722" stroke-width="0.28" font-weight="400" text-anchor="start" textLength="47.5" lengthAdjust="spacingAndGlyphs">1,240.00</text>
<text x="1467.8" y="172.85999999999999" font-size="11" fill="#131722" stroke="#131722" stroke-width="0.28" font-weight="400" text-anchor="start" textLength="47.5" lengthAdjust="spacingAndGlyphs">1,280.00</text>
<text x="1467.8" y="141.04" font-size="11" fill="#131722" stroke="#131722" stroke-width="0.28" font-weight="400" text-anchor="start" textLength="47.5" lengthAdjust="spacingAndGlyphs">1,320.00</text>
<text x="1467.8" y="109.22000000000001" font-size="11" fill="#131722" stroke="#131722" stroke-width="0.28" font-weight="400" text-anchor="start" textLength="47.5" lengthAdjust="spacingAndGlyphs">1,360.00</text>
<text x="1467.8" y="77.4" font-size="11" fill="#131722" stroke="#131722" stroke-width="0.28" font-weight="400" text-anchor="start" textLength="47.5" lengthAdjust="spacingAndGlyphs">1,400.00</text>
<text x="1467.8" y="585.76" font-size="11" fill="#131722" stroke="#131722" stroke-width="0.28" font-weight="400" text-anchor="start" textLength="30.6" lengthAdjust="spacingAndGlyphs">80.00</text>
<text x="1467.8" y="615.5" font-size="11" fill="#131722" stroke="#131722" stroke-width="0.28" font-weight="400" text-anchor="start" textLength="30.6" lengthAdjust="spacingAndGlyphs">60.00</text>
<text x="1467.8" y="645.24" font-size="11" fill="#131722" stroke="#131722" stroke-width="0.28" font-weight="400" text-anchor="start" textLength="30.6" lengthAdjust="spacingAndGlyphs">40.00</text>
<text x="1467.8" y="674.98" font-size="11" fill="#131722" stroke="#131722" stroke-width="0.28" font-weight="400" text-anchor="start" textLength="30.6" lengthAdjust="spacingAndGlyphs">20.00</text>
<text x="1467.8" y="701.9" font-size="11" fill="#131722" stroke="#131722" stroke-width="0.28" font-weight="400" text-anchor="start" textLength="30.6" lengthAdjust="spacingAndGlyphs">50.00</text>
<text x="1467.8" y="731.25" font-size="11" fill="#131722" stroke="#131722" stroke-width="0.28" font-weight="400" text-anchor="start" textLength="30.6" lengthAdjust="spacingAndGlyphs">25.00</text>
<text x="1467.8" y="760.6" font-size="11" fill="#131722" stroke="#131722" stroke-width="0.28" font-weight="400" text-anchor="start" textLength="24.2" lengthAdjust="spacingAndGlyphs">0.00</text>
<rect x="1425.4" y="86.6" width="32.4" height="15.8" rx="2" fill="#e3effd"/>
<text x="1430.5" y="97.7" font-size="11" fill="#131722" stroke="#131722" stroke-width="0.28" font-weight="400" text-anchor="start" textLength="23.7" lengthAdjust="spacingAndGlyphs">High</text>
<rect x="1459.3" y="86.60" width="62.5" height="15.8" rx="2" fill="#e3effd"/>
<text x="1467.8" y="97.7" font-size="11" fill="#131722" stroke="#131722" stroke-width="0.28" font-weight="400" text-anchor="start" textLength="47.5" lengthAdjust="spacingAndGlyphs">1,375.11</text>
<rect x="1429" y="495.6" width="28.8" height="15.8" rx="2" fill="#e3effd"/>
<text x="1433.3" y="506.7" font-size="11" fill="#131722" stroke="#131722" stroke-width="0.28" font-weight="400" text-anchor="start" textLength="21" lengthAdjust="spacingAndGlyphs">Low</text>
<rect x="1459.3" y="495.60" width="51.8" height="15.8" rx="2" fill="#e3effd"/>
<text x="1467.8" y="506.7" font-size="11" fill="#131722" stroke="#131722" stroke-width="0.28" font-weight="400" text-anchor="start" textLength="37.5" lengthAdjust="spacingAndGlyphs">860.11</text>
<rect x="1459.3" y="239.00" width="62.5" height="15.8" rx="2" fill="#000"/>
<text x="1467.8" y="250.1" font-size="11" fill="#fff" stroke="#fff" stroke-width="0.28" font-weight="400" text-anchor="start" textLength="47.5" lengthAdjust="spacingAndGlyphs">1,182.60</text>
<rect x="1459.3" y="292.90" width="62.5" height="15.8" rx="2" fill="#2962ff"/>
<text x="1467.8" y="304.0" font-size="11" fill="#fff" stroke="#fff" stroke-width="0.28" font-weight="400" text-anchor="start" textLength="47.2" lengthAdjust="spacingAndGlyphs">1,096.41</text>
<rect x="1459.3" y="308.60" width="62.5" height="15.8" rx="2" fill="#9c27b0"/>
<text x="1467.8" y="319.7" font-size="11" fill="#fff" stroke="#fff" stroke-width="0.28" font-weight="400" text-anchor="start" textLength="47.5" lengthAdjust="spacingAndGlyphs">1,095.20</text>
<rect x="1459.3" y="324.40" width="62.5" height="15.8" rx="2" fill="#ff1f26"/>
<text x="1467.8" y="335.5" font-size="11" fill="#fff" stroke="#fff" stroke-width="0.28" font-weight="400" text-anchor="start" textLength="47.2" lengthAdjust="spacingAndGlyphs">1,075.16</text>
<rect x="1459.3" y="368.00" width="62.5" height="15.8" rx="2" fill="#000"/>
<text x="1467.8" y="379.09999999999997" font-size="11" fill="#fff" stroke="#fff" stroke-width="0.28" font-weight="400" text-anchor="start" textLength="47.5" lengthAdjust="spacingAndGlyphs">1,021.00</text>
<rect x="1459.3" y="392.1" width="62.5" height="28.9" rx="2" fill="#000"/>
<text x="1467.8" y="403.6" font-size="11" fill="#fff" stroke="#fff" stroke-width="0.28" font-weight="400" text-anchor="start" textLength="37.5" lengthAdjust="spacingAndGlyphs">990.45</text>
<text x="1467.8" y="416.6" font-size="11" fill="#d1d4dc" stroke="#d1d4dc" stroke-width="0.28" font-weight="400" text-anchor="start" textLength="47.9" lengthAdjust="spacingAndGlyphs">03:13:09</text>
<rect x="1459.3" y="438.30" width="51.8" height="15.8" rx="2" fill="#000"/>
<text x="1467.8" y="449.4" font-size="11" fill="#fff" stroke="#fff" stroke-width="0.28" font-weight="400" text-anchor="start" textLength="37.5" lengthAdjust="spacingAndGlyphs">932.04</text>
<rect x="1459.3" y="528.00" width="51.8" height="15.8" rx="2" fill="#000"/>
<text x="1467.8" y="539.1" font-size="11" fill="#fff" stroke="#fff" stroke-width="0.28" font-weight="400" text-anchor="start" textLength="37.5" lengthAdjust="spacingAndGlyphs">819.20</text>
<rect x="1459.3" y="638.65" width="44.4" height="16.1" rx="2" fill="#fdd835"/>
<text x="1467.8" y="649.9000000000001" font-size="11" fill="#131722" stroke="#131722" stroke-width="0.28" font-weight="400" text-anchor="start" textLength="30.4" lengthAdjust="spacingAndGlyphs">32.83</text>
<rect x="1459.3" y="654.70" width="44.4" height="15.8" rx="2" fill="#7e57c2"/>
<text x="1467.8" y="665.8000000000001" font-size="11" fill="#fff" stroke="#fff" stroke-width="0.28" font-weight="400" text-anchor="start" textLength="30.4" lengthAdjust="spacingAndGlyphs">26.43</text>
<rect x="1459.3" y="758.10" width="44.4" height="15.8" rx="2" fill="#ffcdd2"/>
<text x="1467.8" y="769.2" font-size="11" fill="#131722" stroke="#131722" stroke-width="0.28" font-weight="400" text-anchor="start" textLength="30" lengthAdjust="spacingAndGlyphs">−7.57</text>
<rect x="1459.3" y="773.95" width="51.9" height="16.1" rx="2" fill="#f23645"/>
<text x="1467.8" y="785.2" font-size="11" fill="#fff" stroke="#fff" stroke-width="0.28" font-weight="400" text-anchor="start" textLength="37.6" lengthAdjust="spacingAndGlyphs">−20.99</text>
<rect x="1459.3" y="790.00" width="51.9" height="16" rx="2" fill="#2962ff"/>
<text x="1467.8" y="801.2" font-size="11" fill="#fff" stroke="#fff" stroke-width="0.28" font-weight="400" text-anchor="start" textLength="37.6" lengthAdjust="spacingAndGlyphs">−28.56</text>
<rect x="1462.5" y="29.5" width="60" height="24" rx="4.5" fill="#fff" stroke="#f0f1f4" stroke-width="1"/>
<text x="1471.4" y="45.3" font-size="11" fill="#131722" stroke="#131722" stroke-width="0.28" font-weight="400" text-anchor="start" textLength="29" lengthAdjust="spacingAndGlyphs">USDT</text>
<text x="55.5" y="831.9" font-size="12" fill="#131722" stroke="#131722" stroke-width="0.28" font-weight="400" text-anchor="middle">22</text>
<text x="113.0" y="831.9" font-size="12" fill="#131722" stroke="#131722" stroke-width="0.28" font-weight="400" text-anchor="middle">24</text>
<text x="170.5" y="831.9" font-size="12" fill="#131722" stroke="#131722" stroke-width="0.28" font-weight="400" text-anchor="middle">26</text>
<text x="228.0" y="831.9" font-size="12" fill="#131722" stroke="#131722" stroke-width="0.28" font-weight="400" text-anchor="middle">28</text>
<text x="314.3" y="831.9" font-size="12" fill="#131722" stroke="#131722" stroke-width="0" font-weight="700" text-anchor="middle">Oct</text>
<text x="371.8" y="831.9" font-size="12" fill="#131722" stroke="#131722" stroke-width="0.28" font-weight="400" text-anchor="middle">3</text>
<text x="429.3" y="831.9" font-size="12" fill="#131722" stroke="#131722" stroke-width="0.28" font-weight="400" text-anchor="middle">5</text>
<text x="486.8" y="831.9" font-size="12" fill="#131722" stroke="#131722" stroke-width="0.28" font-weight="400" text-anchor="middle">7</text>
<text x="544.3" y="831.9" font-size="12" fill="#131722" stroke="#131722" stroke-width="0.28" font-weight="400" text-anchor="middle">9</text>
<text x="601.8" y="831.9" font-size="12" fill="#131722" stroke="#131722" stroke-width="0.28" font-weight="400" text-anchor="middle">11</text>
<text x="659.3" y="831.9" font-size="12" fill="#131722" stroke="#131722" stroke-width="0.28" font-weight="400" text-anchor="middle">13</text>
<text x="716.8" y="831.9" font-size="12" fill="#131722" stroke="#131722" stroke-width="0.28" font-weight="400" text-anchor="middle">15</text>
<text x="774.3" y="831.9" font-size="12" fill="#131722" stroke="#131722" stroke-width="0.28" font-weight="400" text-anchor="middle">17</text>
<text x="831.8" y="831.9" font-size="12" fill="#131722" stroke="#131722" stroke-width="0.28" font-weight="400" text-anchor="middle">19</text>
<text x="889.3" y="831.9" font-size="12" fill="#131722" stroke="#131722" stroke-width="0.28" font-weight="400" text-anchor="middle">21</text>
<text x="946.8" y="831.9" font-size="12" fill="#131722" stroke="#131722" stroke-width="0.28" font-weight="400" text-anchor="middle">23</text>
<text x="1004.3" y="831.9" font-size="12" fill="#131722" stroke="#131722" stroke-width="0.28" font-weight="400" text-anchor="middle">25</text>
<text x="1061.8" y="831.9" font-size="12" fill="#131722" stroke="#131722" stroke-width="0.28" font-weight="400" text-anchor="middle">27</text>
<text x="1119.3" y="831.9" font-size="12" fill="#131722" stroke="#131722" stroke-width="0.28" font-weight="400" text-anchor="middle">29</text>
<text x="1205.6" y="831.9" font-size="12" fill="#131722" stroke="#131722" stroke-width="0" font-weight="700" text-anchor="middle">Nov</text>
<text x="1263.1" y="831.9" font-size="12" fill="#131722" stroke="#131722" stroke-width="0.28" font-weight="400" text-anchor="middle">3</text>
<text x="1320.6" y="831.9" font-size="12" fill="#131722" stroke="#131722" stroke-width="0.28" font-weight="400" text-anchor="middle">5</text>
<text x="1378.1" y="831.9" font-size="12" fill="#131722" stroke="#131722" stroke-width="0.28" font-weight="400" text-anchor="middle">7</text>
<text x="1435.6" y="831.9" font-size="12" fill="#131722" stroke="#131722" stroke-width="0.28" font-weight="400" text-anchor="middle">9</text>
<text x="9.9" y="18.9" font-size="11.2" fill="#131722" stroke="#131722" stroke-width="0.28" font-weight="400" text-anchor="start" textLength="415" lengthAdjust="spacingAndGlyphs">CryptoFXStreet created with TradingView.com, Nov 04, 2025 10:16 UTC+5:30</text>
<text x="17" y="44.5" font-size="11.2" fill="#131722" stroke="#131722" stroke-width="0.28" font-weight="400" text-anchor="start" textLength="205" lengthAdjust="spacingAndGlyphs">Binance Coin / TetherUS · 4h · Binance</text>
<text x="229.5" y="44.5" font-size="11.2" fill="#131722" stroke="#131722" stroke-width="0.28" font-weight="400" text-anchor="start" textLength="45.5" lengthAdjust="spacingAndGlyphs">O999.22</text>
<text x="282.5" y="44.5" font-size="11.2" fill="#131722" stroke="#131722" stroke-width="0.28" font-weight="400" text-anchor="start" textLength="51.5" lengthAdjust="spacingAndGlyphs">H1,002.12</text>
<text x="341.5" y="44.5" font-size="11.2" fill="#131722" stroke="#131722" stroke-width="0.28" font-weight="400" text-anchor="start" textLength="42.5" lengthAdjust="spacingAndGlyphs">L990.01</text>
<text x="391" y="44.5" font-size="11.2" fill="#131722" stroke="#131722" stroke-width="0.28" font-weight="400" text-anchor="start" textLength="45" lengthAdjust="spacingAndGlyphs">C990.45</text>
<text x="443.5" y="44.5" font-size="11.2" fill="#131722" stroke="#131722" stroke-width="0.28" font-weight="400" text-anchor="start" textLength="83" lengthAdjust="spacingAndGlyphs">−8.76 (−0.88%)</text>
<text x="17" y="60.5" font-size="11.2" fill="#131722" stroke="#131722" stroke-width="0.28" font-weight="400" text-anchor="start" textLength="206" lengthAdjust="spacingAndGlyphs">EMA (50, close, 100, close, 200, close)</text>
<text x="231" y="60.5" font-size="11.2" fill="#ff1f26" stroke="#ff1f26" stroke-width="0.28" font-weight="400" text-anchor="start" textLength="43" lengthAdjust="spacingAndGlyphs">1,075.16</text>
<text x="281" y="60.5" font-size="11.2" fill="#2962ff" stroke="#2962ff" stroke-width="0.28" font-weight="400" text-anchor="start" textLength="43.5" lengthAdjust="spacingAndGlyphs">1,096.41</text>
<text x="332" y="60.5" font-size="11.2" fill="#9c27b0" stroke="#9c27b0" stroke-width="0.28" font-weight="400" text-anchor="start" textLength="45" lengthAdjust="spacingAndGlyphs">1,095.20</text>
<text x="17" y="582.1" font-size="11.2" fill="#131722" stroke="#131722" stroke-width="0.28" font-weight="400" text-anchor="start" textLength="76" lengthAdjust="spacingAndGlyphs">RSI (14, close)</text>
<text x="100.3" y="582.1" font-size="11.2" fill="#7e57c2" stroke="#7e57c2" stroke-width="0.28" font-weight="400" text-anchor="start" textLength="30" lengthAdjust="spacingAndGlyphs">26.43</text>
<text x="137.8" y="582.1" font-size="11.2" fill="#f5c93a" stroke="#f5c93a" stroke-width="0.28" font-weight="400" text-anchor="start" textLength="30.5" lengthAdjust="spacingAndGlyphs">32.83</text>
<text x="17" y="706.5" font-size="11.2" fill="#131722" stroke="#131722" stroke-width="0.28" font-weight="400" text-anchor="start" textLength="111.5" lengthAdjust="spacingAndGlyphs">MACD (12, 26, close)</text>
<text x="136.2" y="706.5" font-size="11.2" fill="#ffcdd2" stroke="#ffcdd2" stroke-width="0.28" font-weight="400" text-anchor="start" textLength="28" lengthAdjust="spacingAndGlyphs">−7.57</text>
<text x="171.4" y="706.5" font-size="11.2" fill="#2962ff" stroke="#2962ff" stroke-width="0.28" font-weight="400" text-anchor="start" textLength="37.5" lengthAdjust="spacingAndGlyphs">−28.56</text>
<text x="216" y="706.5" font-size="11.2" fill="#f23645" stroke="#f23645" stroke-width="0.28" font-weight="400" text-anchor="start" textLength="37.5" lengthAdjust="spacingAndGlyphs">−20.99</text>
<g fill="#131722"><path d="M11.1,861.1 H22.3 V874.8 H17 V866.4 H11.1 Z"/><circle cx="27.8" cy="863.8" r="2.65"/><path d="M31.9,861.1 H39.3 L34.8,874.8 H27.5 Z"/></g>
<text x="46.3" y="874.8" font-size="18.8" fill="#131722" stroke="#131722" stroke-width="0" font-weight="700" text-anchor="start" textLength="113.7" lengthAdjust="spacingAndGlyphs">TradingView</text></svg></body></html>
